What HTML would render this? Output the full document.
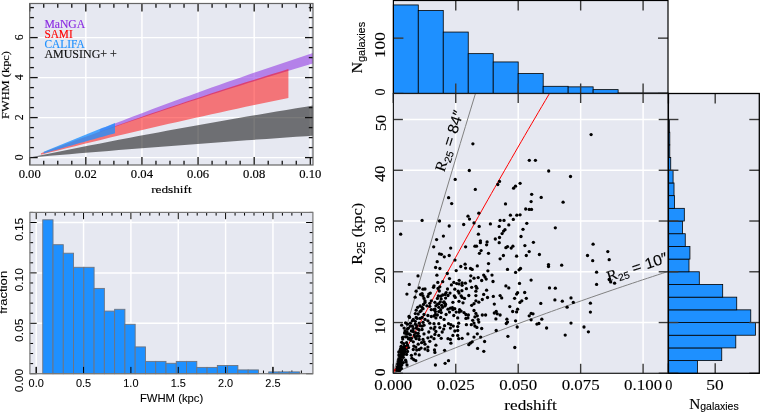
<!DOCTYPE html>
<html><head><meta charset="utf-8"><style>
html,body{margin:0;padding:0;background:#fff;width:760px;height:413px;overflow:hidden}
svg{display:block;will-change:transform}
</style></head><body>
<svg width="760" height="413" viewBox="0 0 760 413">
<rect width="760" height="413" fill="#fff"/>
<rect x="29.70" y="3.50" width="283.30" height="161.50" fill="#e6e8f1" stroke="none" stroke-width="0" />
<clipPath id="cA"><rect x="29.7" y="3.5" width="283.3" height="161.5"/></clipPath>
<g clip-path="url(#cA)">
<line x1="29.70" y1="3.50" x2="29.70" y2="165.00" stroke="#fff" stroke-width="1.45" />
<line x1="85.82" y1="3.50" x2="85.82" y2="165.00" stroke="#fff" stroke-width="1.45" />
<line x1="141.94" y1="3.50" x2="141.94" y2="165.00" stroke="#fff" stroke-width="1.45" />
<line x1="198.06" y1="3.50" x2="198.06" y2="165.00" stroke="#fff" stroke-width="1.45" />
<line x1="254.18" y1="3.50" x2="254.18" y2="165.00" stroke="#fff" stroke-width="1.45" />
<line x1="310.30" y1="3.50" x2="310.30" y2="165.00" stroke="#fff" stroke-width="1.45" />
<line x1="29.70" y1="157.60" x2="313.00" y2="157.60" stroke="#fff" stroke-width="1.45" />
<line x1="29.70" y1="117.60" x2="313.00" y2="117.60" stroke="#fff" stroke-width="1.45" />
<line x1="29.70" y1="77.60" x2="313.00" y2="77.60" stroke="#fff" stroke-width="1.45" />
<line x1="29.70" y1="37.60" x2="313.00" y2="37.60" stroke="#fff" stroke-width="1.45" />
<polygon points="29.98,157.54 39.84,155.51 49.70,153.49 59.56,151.49 69.42,149.51 79.28,147.55 89.14,145.60 99.00,143.67 108.86,141.75 118.72,139.85 128.58,137.97 138.44,136.10 148.30,134.25 158.16,132.41 168.02,130.59 177.88,128.79 187.74,127.00 197.60,125.22 207.46,123.46 217.31,121.72 227.17,119.99 237.03,118.27 246.89,116.57 256.75,114.88 266.61,113.21 276.47,111.55 286.33,109.90 296.19,108.27 306.05,106.65 315.91,105.05 315.91,135.45 306.05,136.13 296.19,136.81 286.33,137.50 276.47,138.19 266.61,138.89 256.75,139.60 246.89,140.31 237.03,141.03 227.17,141.75 217.31,142.48 207.46,143.21 197.60,143.96 187.74,144.70 177.88,145.46 168.02,146.22 158.16,146.99 148.30,147.76 138.44,148.54 128.58,149.33 118.72,150.12 108.86,150.92 99.00,151.73 89.14,152.54 79.28,153.36 69.42,154.19 59.56,155.03 49.70,155.87 39.84,156.72 29.98,157.58" fill="#000" fill-opacity="0.52"/>
<polygon points="99.85,129.30 107.30,126.39 114.75,123.51 122.20,120.64 129.65,117.79 137.10,114.96 144.55,112.14 152.00,109.35 159.45,106.57 166.90,103.81 174.35,101.06 181.80,98.34 189.25,95.63 196.71,92.94 204.16,90.26 211.61,87.61 219.06,84.97 226.51,82.34 233.96,79.74 241.41,77.15 248.86,74.57 256.31,72.01 263.76,69.47 271.21,66.95 278.66,64.44 286.11,61.94 293.56,59.46 301.01,57.00 308.46,54.55 315.91,52.12 315.91,62.63 308.46,64.82 301.01,67.02 293.56,69.24 286.11,71.47 278.66,73.72 271.21,75.98 263.76,78.25 256.31,80.54 248.86,82.85 241.41,85.16 233.96,87.50 226.51,89.84 219.06,92.20 211.61,94.58 204.16,96.97 196.71,99.38 189.25,101.81 181.80,104.24 174.35,106.70 166.90,109.17 159.45,111.65 152.00,114.15 144.55,116.67 137.10,119.21 129.65,121.76 122.20,124.32 114.75,126.90 107.30,129.50 99.85,132.12" fill="#8a2be2" fill-opacity="0.55"/>
<polygon points="40.92,153.34 49.46,150.12 57.99,146.93 66.53,143.76 75.06,140.62 83.59,137.50 92.13,134.40 100.66,131.32 109.20,128.27 117.73,125.24 126.27,122.23 134.80,119.25 143.33,116.28 151.87,113.34 160.40,110.42 168.94,107.52 177.47,104.64 186.00,101.79 194.54,98.95 203.07,96.13 211.61,93.34 220.14,90.56 228.67,87.81 237.21,85.07 245.74,82.35 254.28,79.66 262.81,76.98 271.34,74.32 279.88,71.69 288.41,69.07 288.41,97.89 279.88,99.66 271.34,101.44 262.81,103.23 254.28,105.03 245.74,106.85 237.21,108.68 228.67,110.53 220.14,112.39 211.61,114.26 203.07,116.15 194.54,118.04 186.00,119.96 177.47,121.88 168.94,123.83 160.40,125.78 151.87,127.75 143.33,129.74 134.80,131.73 126.27,133.75 117.73,135.78 109.20,137.82 100.66,139.88 92.13,141.95 83.59,144.04 75.06,146.15 66.53,148.27 57.99,150.40 49.46,152.56 40.92,154.72" fill="#ff0000" fill-opacity="0.5"/>
<polygon points="43.73,151.74 46.19,150.72 48.65,149.70 51.10,148.69 53.56,147.68 56.02,146.66 58.48,145.66 60.93,144.65 63.39,143.65 65.85,142.64 68.31,141.64 70.76,140.65 73.22,139.65 75.68,138.66 78.14,137.67 80.60,136.68 83.05,135.69 85.51,134.70 87.97,133.72 90.43,132.74 92.88,131.76 95.34,130.78 97.80,129.81 100.26,128.84 102.71,127.87 105.17,126.90 107.63,125.93 110.09,124.97 112.54,124.01 115.00,123.04 115.00,133.27 112.54,133.94 110.09,134.62 107.63,135.30 105.17,135.98 102.71,136.66 100.26,137.34 97.80,138.03 95.34,138.72 92.88,139.40 90.43,140.09 87.97,140.78 85.51,141.48 83.05,142.17 80.60,142.86 78.14,143.56 75.68,144.26 73.22,144.96 70.76,145.66 68.31,146.36 65.85,147.07 63.39,147.77 60.93,148.48 58.48,149.19 56.02,149.90 53.56,150.61 51.10,151.32 48.65,152.04 46.19,152.75 43.73,153.47" fill="#1e90ff" fill-opacity="0.78"/>
</g>
<line x1="29.70" y1="165.00" x2="29.70" y2="157.00" stroke="#111" stroke-width="1.3" />
<line x1="29.70" y1="3.50" x2="29.70" y2="11.50" stroke="#111" stroke-width="1.3" />
<line x1="43.73" y1="165.00" x2="43.73" y2="160.80" stroke="#111" stroke-width="1.3" />
<line x1="43.73" y1="3.50" x2="43.73" y2="7.70" stroke="#111" stroke-width="1.3" />
<line x1="57.76" y1="165.00" x2="57.76" y2="160.80" stroke="#111" stroke-width="1.3" />
<line x1="57.76" y1="3.50" x2="57.76" y2="7.70" stroke="#111" stroke-width="1.3" />
<line x1="71.79" y1="165.00" x2="71.79" y2="160.80" stroke="#111" stroke-width="1.3" />
<line x1="71.79" y1="3.50" x2="71.79" y2="7.70" stroke="#111" stroke-width="1.3" />
<line x1="85.82" y1="165.00" x2="85.82" y2="157.00" stroke="#111" stroke-width="1.3" />
<line x1="85.82" y1="3.50" x2="85.82" y2="11.50" stroke="#111" stroke-width="1.3" />
<line x1="99.85" y1="165.00" x2="99.85" y2="160.80" stroke="#111" stroke-width="1.3" />
<line x1="99.85" y1="3.50" x2="99.85" y2="7.70" stroke="#111" stroke-width="1.3" />
<line x1="113.88" y1="165.00" x2="113.88" y2="160.80" stroke="#111" stroke-width="1.3" />
<line x1="113.88" y1="3.50" x2="113.88" y2="7.70" stroke="#111" stroke-width="1.3" />
<line x1="127.91" y1="165.00" x2="127.91" y2="160.80" stroke="#111" stroke-width="1.3" />
<line x1="127.91" y1="3.50" x2="127.91" y2="7.70" stroke="#111" stroke-width="1.3" />
<line x1="141.94" y1="165.00" x2="141.94" y2="157.00" stroke="#111" stroke-width="1.3" />
<line x1="141.94" y1="3.50" x2="141.94" y2="11.50" stroke="#111" stroke-width="1.3" />
<line x1="155.97" y1="165.00" x2="155.97" y2="160.80" stroke="#111" stroke-width="1.3" />
<line x1="155.97" y1="3.50" x2="155.97" y2="7.70" stroke="#111" stroke-width="1.3" />
<line x1="170.00" y1="165.00" x2="170.00" y2="160.80" stroke="#111" stroke-width="1.3" />
<line x1="170.00" y1="3.50" x2="170.00" y2="7.70" stroke="#111" stroke-width="1.3" />
<line x1="184.03" y1="165.00" x2="184.03" y2="160.80" stroke="#111" stroke-width="1.3" />
<line x1="184.03" y1="3.50" x2="184.03" y2="7.70" stroke="#111" stroke-width="1.3" />
<line x1="198.06" y1="165.00" x2="198.06" y2="157.00" stroke="#111" stroke-width="1.3" />
<line x1="198.06" y1="3.50" x2="198.06" y2="11.50" stroke="#111" stroke-width="1.3" />
<line x1="212.09" y1="165.00" x2="212.09" y2="160.80" stroke="#111" stroke-width="1.3" />
<line x1="212.09" y1="3.50" x2="212.09" y2="7.70" stroke="#111" stroke-width="1.3" />
<line x1="226.12" y1="165.00" x2="226.12" y2="160.80" stroke="#111" stroke-width="1.3" />
<line x1="226.12" y1="3.50" x2="226.12" y2="7.70" stroke="#111" stroke-width="1.3" />
<line x1="240.15" y1="165.00" x2="240.15" y2="160.80" stroke="#111" stroke-width="1.3" />
<line x1="240.15" y1="3.50" x2="240.15" y2="7.70" stroke="#111" stroke-width="1.3" />
<line x1="254.18" y1="165.00" x2="254.18" y2="157.00" stroke="#111" stroke-width="1.3" />
<line x1="254.18" y1="3.50" x2="254.18" y2="11.50" stroke="#111" stroke-width="1.3" />
<line x1="268.21" y1="165.00" x2="268.21" y2="160.80" stroke="#111" stroke-width="1.3" />
<line x1="268.21" y1="3.50" x2="268.21" y2="7.70" stroke="#111" stroke-width="1.3" />
<line x1="282.24" y1="165.00" x2="282.24" y2="160.80" stroke="#111" stroke-width="1.3" />
<line x1="282.24" y1="3.50" x2="282.24" y2="7.70" stroke="#111" stroke-width="1.3" />
<line x1="296.27" y1="165.00" x2="296.27" y2="160.80" stroke="#111" stroke-width="1.3" />
<line x1="296.27" y1="3.50" x2="296.27" y2="7.70" stroke="#111" stroke-width="1.3" />
<line x1="310.30" y1="165.00" x2="310.30" y2="157.00" stroke="#111" stroke-width="1.3" />
<line x1="310.30" y1="3.50" x2="310.30" y2="11.50" stroke="#111" stroke-width="1.3" />
<line x1="29.70" y1="157.60" x2="37.70" y2="157.60" stroke="#111" stroke-width="1.3" />
<line x1="313.00" y1="157.60" x2="305.00" y2="157.60" stroke="#111" stroke-width="1.3" />
<line x1="29.70" y1="147.60" x2="33.90" y2="147.60" stroke="#111" stroke-width="1.3" />
<line x1="313.00" y1="147.60" x2="308.80" y2="147.60" stroke="#111" stroke-width="1.3" />
<line x1="29.70" y1="137.60" x2="33.90" y2="137.60" stroke="#111" stroke-width="1.3" />
<line x1="313.00" y1="137.60" x2="308.80" y2="137.60" stroke="#111" stroke-width="1.3" />
<line x1="29.70" y1="127.60" x2="33.90" y2="127.60" stroke="#111" stroke-width="1.3" />
<line x1="313.00" y1="127.60" x2="308.80" y2="127.60" stroke="#111" stroke-width="1.3" />
<line x1="29.70" y1="117.60" x2="37.70" y2="117.60" stroke="#111" stroke-width="1.3" />
<line x1="313.00" y1="117.60" x2="305.00" y2="117.60" stroke="#111" stroke-width="1.3" />
<line x1="29.70" y1="107.60" x2="33.90" y2="107.60" stroke="#111" stroke-width="1.3" />
<line x1="313.00" y1="107.60" x2="308.80" y2="107.60" stroke="#111" stroke-width="1.3" />
<line x1="29.70" y1="97.60" x2="33.90" y2="97.60" stroke="#111" stroke-width="1.3" />
<line x1="313.00" y1="97.60" x2="308.80" y2="97.60" stroke="#111" stroke-width="1.3" />
<line x1="29.70" y1="87.60" x2="33.90" y2="87.60" stroke="#111" stroke-width="1.3" />
<line x1="313.00" y1="87.60" x2="308.80" y2="87.60" stroke="#111" stroke-width="1.3" />
<line x1="29.70" y1="77.60" x2="37.70" y2="77.60" stroke="#111" stroke-width="1.3" />
<line x1="313.00" y1="77.60" x2="305.00" y2="77.60" stroke="#111" stroke-width="1.3" />
<line x1="29.70" y1="67.60" x2="33.90" y2="67.60" stroke="#111" stroke-width="1.3" />
<line x1="313.00" y1="67.60" x2="308.80" y2="67.60" stroke="#111" stroke-width="1.3" />
<line x1="29.70" y1="57.60" x2="33.90" y2="57.60" stroke="#111" stroke-width="1.3" />
<line x1="313.00" y1="57.60" x2="308.80" y2="57.60" stroke="#111" stroke-width="1.3" />
<line x1="29.70" y1="47.60" x2="33.90" y2="47.60" stroke="#111" stroke-width="1.3" />
<line x1="313.00" y1="47.60" x2="308.80" y2="47.60" stroke="#111" stroke-width="1.3" />
<line x1="29.70" y1="37.60" x2="37.70" y2="37.60" stroke="#111" stroke-width="1.3" />
<line x1="313.00" y1="37.60" x2="305.00" y2="37.60" stroke="#111" stroke-width="1.3" />
<line x1="29.70" y1="27.60" x2="33.90" y2="27.60" stroke="#111" stroke-width="1.3" />
<line x1="313.00" y1="27.60" x2="308.80" y2="27.60" stroke="#111" stroke-width="1.3" />
<line x1="29.70" y1="17.60" x2="33.90" y2="17.60" stroke="#111" stroke-width="1.3" />
<line x1="313.00" y1="17.60" x2="308.80" y2="17.60" stroke="#111" stroke-width="1.3" />
<line x1="29.70" y1="7.60" x2="33.90" y2="7.60" stroke="#111" stroke-width="1.3" />
<line x1="313.00" y1="7.60" x2="308.80" y2="7.60" stroke="#111" stroke-width="1.3" />
<rect x="29.70" y="3.50" width="283.30" height="161.50" fill="none" stroke="#666" stroke-width="1.2" />
<text x="29.70" y="178.30" font-family='"Liberation Serif", serif' font-size="11.8" text-anchor="middle" fill="#000" stroke="#000" stroke-width="0.15" textLength="22.10" lengthAdjust="spacingAndGlyphs" >0.00</text>
<text x="85.82" y="178.30" font-family='"Liberation Serif", serif' font-size="11.8" text-anchor="middle" fill="#000" stroke="#000" stroke-width="0.15" textLength="22.10" lengthAdjust="spacingAndGlyphs" >0.02</text>
<text x="141.94" y="178.30" font-family='"Liberation Serif", serif' font-size="11.8" text-anchor="middle" fill="#000" stroke="#000" stroke-width="0.15" textLength="22.10" lengthAdjust="spacingAndGlyphs" >0.04</text>
<text x="198.06" y="178.30" font-family='"Liberation Serif", serif' font-size="11.8" text-anchor="middle" fill="#000" stroke="#000" stroke-width="0.15" textLength="22.10" lengthAdjust="spacingAndGlyphs" >0.06</text>
<text x="254.18" y="178.30" font-family='"Liberation Serif", serif' font-size="11.8" text-anchor="middle" fill="#000" stroke="#000" stroke-width="0.15" textLength="22.10" lengthAdjust="spacingAndGlyphs" >0.08</text>
<text x="310.30" y="178.30" font-family='"Liberation Serif", serif' font-size="11.8" text-anchor="middle" fill="#000" stroke="#000" stroke-width="0.15" textLength="22.10" lengthAdjust="spacingAndGlyphs" >0.10</text>
<text x="23.20" y="157.20" font-family='"Liberation Serif", serif' font-size="11.8" text-anchor="middle" fill="#000" stroke="#000" stroke-width="0.15" transform="rotate(-90 23.20 157.20)" >0</text>
<text x="23.20" y="117.20" font-family='"Liberation Serif", serif' font-size="11.8" text-anchor="middle" fill="#000" stroke="#000" stroke-width="0.15" transform="rotate(-90 23.20 117.20)" >2</text>
<text x="23.20" y="77.20" font-family='"Liberation Serif", serif' font-size="11.8" text-anchor="middle" fill="#000" stroke="#000" stroke-width="0.15" transform="rotate(-90 23.20 77.20)" >4</text>
<text x="23.20" y="37.20" font-family='"Liberation Serif", serif' font-size="11.8" text-anchor="middle" fill="#000" stroke="#000" stroke-width="0.15" transform="rotate(-90 23.20 37.20)" >6</text>
<text x="171.40" y="193.00" font-family='"Liberation Serif", serif' font-size="11.2" text-anchor="middle" fill="#000" stroke="#000" stroke-width="0.15" textLength="40.50" lengthAdjust="spacingAndGlyphs" >redshift</text>
<text x="8.70" y="85.00" font-family='"Liberation Serif", serif' font-size="10.8" text-anchor="middle" fill="#000" stroke="#000" stroke-width="0.15" textLength="68.00" lengthAdjust="spacingAndGlyphs" transform="rotate(-90 8.70 85.00)" >FWHM (kpc)</text>
<text x="44.40" y="27.90" font-family='"Liberation Serif", serif' font-size="11.8" text-anchor="start" fill="#8a2be2" stroke="#8a2be2" stroke-width="0.15" textLength="40.80" lengthAdjust="spacingAndGlyphs" >MaNGA</text>
<text x="44.40" y="37.70" font-family='"Liberation Serif", serif' font-size="11.8" text-anchor="start" fill="#ff0000" stroke="#ff0000" stroke-width="0.15" textLength="28.30" lengthAdjust="spacingAndGlyphs" >SAMI</text>
<text x="44.40" y="47.70" font-family='"Liberation Serif", serif' font-size="11.8" text-anchor="start" fill="#1e90ff" stroke="#1e90ff" stroke-width="0.15" textLength="40.30" lengthAdjust="spacingAndGlyphs" >CALIFA</text>
<text x="44.40" y="57.50" font-family='"Liberation Serif", serif' font-size="11.8" text-anchor="start" fill="#111" stroke="#111" stroke-width="0.15" textLength="72.40" lengthAdjust="spacingAndGlyphs" >AMUSING+ +</text>
<rect x="29.90" y="212.40" width="283.00" height="161.30" fill="#e6e8f1" stroke="none" stroke-width="0" />
<line x1="36.20" y1="212.40" x2="36.20" y2="373.70" stroke="#fff" stroke-width="1.45" />
<line x1="83.55" y1="212.40" x2="83.55" y2="373.70" stroke="#fff" stroke-width="1.45" />
<line x1="130.90" y1="212.40" x2="130.90" y2="373.70" stroke="#fff" stroke-width="1.45" />
<line x1="178.25" y1="212.40" x2="178.25" y2="373.70" stroke="#fff" stroke-width="1.45" />
<line x1="225.60" y1="212.40" x2="225.60" y2="373.70" stroke="#fff" stroke-width="1.45" />
<line x1="272.95" y1="212.40" x2="272.95" y2="373.70" stroke="#fff" stroke-width="1.45" />
<line x1="29.90" y1="323.30" x2="312.90" y2="323.30" stroke="#fff" stroke-width="1.45" />
<line x1="29.90" y1="272.90" x2="312.90" y2="272.90" stroke="#fff" stroke-width="1.45" />
<line x1="29.90" y1="222.50" x2="312.90" y2="222.50" stroke="#fff" stroke-width="1.45" />
<line x1="36.20" y1="373.70" x2="36.20" y2="366.90" stroke="#000" stroke-width="1.0" />
<line x1="36.20" y1="212.40" x2="36.20" y2="219.20" stroke="#000" stroke-width="1.0" />
<line x1="45.67" y1="373.70" x2="45.67" y2="370.50" stroke="#000" stroke-width="1.0" />
<line x1="45.67" y1="212.40" x2="45.67" y2="215.60" stroke="#000" stroke-width="1.0" />
<line x1="55.14" y1="373.70" x2="55.14" y2="370.50" stroke="#000" stroke-width="1.0" />
<line x1="55.14" y1="212.40" x2="55.14" y2="215.60" stroke="#000" stroke-width="1.0" />
<line x1="64.61" y1="373.70" x2="64.61" y2="370.50" stroke="#000" stroke-width="1.0" />
<line x1="64.61" y1="212.40" x2="64.61" y2="215.60" stroke="#000" stroke-width="1.0" />
<line x1="74.08" y1="373.70" x2="74.08" y2="370.50" stroke="#000" stroke-width="1.0" />
<line x1="74.08" y1="212.40" x2="74.08" y2="215.60" stroke="#000" stroke-width="1.0" />
<line x1="83.55" y1="373.70" x2="83.55" y2="366.90" stroke="#000" stroke-width="1.0" />
<line x1="83.55" y1="212.40" x2="83.55" y2="219.20" stroke="#000" stroke-width="1.0" />
<line x1="93.02" y1="373.70" x2="93.02" y2="370.50" stroke="#000" stroke-width="1.0" />
<line x1="93.02" y1="212.40" x2="93.02" y2="215.60" stroke="#000" stroke-width="1.0" />
<line x1="102.49" y1="373.70" x2="102.49" y2="370.50" stroke="#000" stroke-width="1.0" />
<line x1="102.49" y1="212.40" x2="102.49" y2="215.60" stroke="#000" stroke-width="1.0" />
<line x1="111.96" y1="373.70" x2="111.96" y2="370.50" stroke="#000" stroke-width="1.0" />
<line x1="111.96" y1="212.40" x2="111.96" y2="215.60" stroke="#000" stroke-width="1.0" />
<line x1="121.43" y1="373.70" x2="121.43" y2="370.50" stroke="#000" stroke-width="1.0" />
<line x1="121.43" y1="212.40" x2="121.43" y2="215.60" stroke="#000" stroke-width="1.0" />
<line x1="130.90" y1="373.70" x2="130.90" y2="366.90" stroke="#000" stroke-width="1.0" />
<line x1="130.90" y1="212.40" x2="130.90" y2="219.20" stroke="#000" stroke-width="1.0" />
<line x1="140.37" y1="373.70" x2="140.37" y2="370.50" stroke="#000" stroke-width="1.0" />
<line x1="140.37" y1="212.40" x2="140.37" y2="215.60" stroke="#000" stroke-width="1.0" />
<line x1="149.84" y1="373.70" x2="149.84" y2="370.50" stroke="#000" stroke-width="1.0" />
<line x1="149.84" y1="212.40" x2="149.84" y2="215.60" stroke="#000" stroke-width="1.0" />
<line x1="159.31" y1="373.70" x2="159.31" y2="370.50" stroke="#000" stroke-width="1.0" />
<line x1="159.31" y1="212.40" x2="159.31" y2="215.60" stroke="#000" stroke-width="1.0" />
<line x1="168.78" y1="373.70" x2="168.78" y2="370.50" stroke="#000" stroke-width="1.0" />
<line x1="168.78" y1="212.40" x2="168.78" y2="215.60" stroke="#000" stroke-width="1.0" />
<line x1="178.25" y1="373.70" x2="178.25" y2="366.90" stroke="#000" stroke-width="1.0" />
<line x1="178.25" y1="212.40" x2="178.25" y2="219.20" stroke="#000" stroke-width="1.0" />
<line x1="187.72" y1="373.70" x2="187.72" y2="370.50" stroke="#000" stroke-width="1.0" />
<line x1="187.72" y1="212.40" x2="187.72" y2="215.60" stroke="#000" stroke-width="1.0" />
<line x1="197.19" y1="373.70" x2="197.19" y2="370.50" stroke="#000" stroke-width="1.0" />
<line x1="197.19" y1="212.40" x2="197.19" y2="215.60" stroke="#000" stroke-width="1.0" />
<line x1="206.66" y1="373.70" x2="206.66" y2="370.50" stroke="#000" stroke-width="1.0" />
<line x1="206.66" y1="212.40" x2="206.66" y2="215.60" stroke="#000" stroke-width="1.0" />
<line x1="216.13" y1="373.70" x2="216.13" y2="370.50" stroke="#000" stroke-width="1.0" />
<line x1="216.13" y1="212.40" x2="216.13" y2="215.60" stroke="#000" stroke-width="1.0" />
<line x1="225.60" y1="373.70" x2="225.60" y2="366.90" stroke="#000" stroke-width="1.0" />
<line x1="225.60" y1="212.40" x2="225.60" y2="219.20" stroke="#000" stroke-width="1.0" />
<line x1="235.07" y1="373.70" x2="235.07" y2="370.50" stroke="#000" stroke-width="1.0" />
<line x1="235.07" y1="212.40" x2="235.07" y2="215.60" stroke="#000" stroke-width="1.0" />
<line x1="244.54" y1="373.70" x2="244.54" y2="370.50" stroke="#000" stroke-width="1.0" />
<line x1="244.54" y1="212.40" x2="244.54" y2="215.60" stroke="#000" stroke-width="1.0" />
<line x1="254.01" y1="373.70" x2="254.01" y2="370.50" stroke="#000" stroke-width="1.0" />
<line x1="254.01" y1="212.40" x2="254.01" y2="215.60" stroke="#000" stroke-width="1.0" />
<line x1="263.48" y1="373.70" x2="263.48" y2="370.50" stroke="#000" stroke-width="1.0" />
<line x1="263.48" y1="212.40" x2="263.48" y2="215.60" stroke="#000" stroke-width="1.0" />
<line x1="272.95" y1="373.70" x2="272.95" y2="366.90" stroke="#000" stroke-width="1.0" />
<line x1="272.95" y1="212.40" x2="272.95" y2="219.20" stroke="#000" stroke-width="1.0" />
<line x1="282.42" y1="373.70" x2="282.42" y2="370.50" stroke="#000" stroke-width="1.0" />
<line x1="282.42" y1="212.40" x2="282.42" y2="215.60" stroke="#000" stroke-width="1.0" />
<line x1="291.89" y1="373.70" x2="291.89" y2="370.50" stroke="#000" stroke-width="1.0" />
<line x1="291.89" y1="212.40" x2="291.89" y2="215.60" stroke="#000" stroke-width="1.0" />
<line x1="301.36" y1="373.70" x2="301.36" y2="370.50" stroke="#000" stroke-width="1.0" />
<line x1="301.36" y1="212.40" x2="301.36" y2="215.60" stroke="#000" stroke-width="1.0" />
<line x1="29.90" y1="373.70" x2="36.70" y2="373.70" stroke="#000" stroke-width="1.0" />
<line x1="312.90" y1="373.70" x2="306.10" y2="373.70" stroke="#000" stroke-width="1.0" />
<line x1="29.90" y1="363.62" x2="33.10" y2="363.62" stroke="#000" stroke-width="1.0" />
<line x1="312.90" y1="363.62" x2="309.70" y2="363.62" stroke="#000" stroke-width="1.0" />
<line x1="29.90" y1="353.54" x2="33.10" y2="353.54" stroke="#000" stroke-width="1.0" />
<line x1="312.90" y1="353.54" x2="309.70" y2="353.54" stroke="#000" stroke-width="1.0" />
<line x1="29.90" y1="343.46" x2="33.10" y2="343.46" stroke="#000" stroke-width="1.0" />
<line x1="312.90" y1="343.46" x2="309.70" y2="343.46" stroke="#000" stroke-width="1.0" />
<line x1="29.90" y1="333.38" x2="33.10" y2="333.38" stroke="#000" stroke-width="1.0" />
<line x1="312.90" y1="333.38" x2="309.70" y2="333.38" stroke="#000" stroke-width="1.0" />
<line x1="29.90" y1="323.30" x2="36.70" y2="323.30" stroke="#000" stroke-width="1.0" />
<line x1="312.90" y1="323.30" x2="306.10" y2="323.30" stroke="#000" stroke-width="1.0" />
<line x1="29.90" y1="313.22" x2="33.10" y2="313.22" stroke="#000" stroke-width="1.0" />
<line x1="312.90" y1="313.22" x2="309.70" y2="313.22" stroke="#000" stroke-width="1.0" />
<line x1="29.90" y1="303.14" x2="33.10" y2="303.14" stroke="#000" stroke-width="1.0" />
<line x1="312.90" y1="303.14" x2="309.70" y2="303.14" stroke="#000" stroke-width="1.0" />
<line x1="29.90" y1="293.06" x2="33.10" y2="293.06" stroke="#000" stroke-width="1.0" />
<line x1="312.90" y1="293.06" x2="309.70" y2="293.06" stroke="#000" stroke-width="1.0" />
<line x1="29.90" y1="282.98" x2="33.10" y2="282.98" stroke="#000" stroke-width="1.0" />
<line x1="312.90" y1="282.98" x2="309.70" y2="282.98" stroke="#000" stroke-width="1.0" />
<line x1="29.90" y1="272.90" x2="36.70" y2="272.90" stroke="#000" stroke-width="1.0" />
<line x1="312.90" y1="272.90" x2="306.10" y2="272.90" stroke="#000" stroke-width="1.0" />
<line x1="29.90" y1="262.82" x2="33.10" y2="262.82" stroke="#000" stroke-width="1.0" />
<line x1="312.90" y1="262.82" x2="309.70" y2="262.82" stroke="#000" stroke-width="1.0" />
<line x1="29.90" y1="252.74" x2="33.10" y2="252.74" stroke="#000" stroke-width="1.0" />
<line x1="312.90" y1="252.74" x2="309.70" y2="252.74" stroke="#000" stroke-width="1.0" />
<line x1="29.90" y1="242.66" x2="33.10" y2="242.66" stroke="#000" stroke-width="1.0" />
<line x1="312.90" y1="242.66" x2="309.70" y2="242.66" stroke="#000" stroke-width="1.0" />
<line x1="29.90" y1="232.58" x2="33.10" y2="232.58" stroke="#000" stroke-width="1.0" />
<line x1="312.90" y1="232.58" x2="309.70" y2="232.58" stroke="#000" stroke-width="1.0" />
<line x1="29.90" y1="222.50" x2="36.70" y2="222.50" stroke="#000" stroke-width="1.0" />
<line x1="312.90" y1="222.50" x2="306.10" y2="222.50" stroke="#000" stroke-width="1.0" />
<line x1="29.90" y1="212.42" x2="33.10" y2="212.42" stroke="#000" stroke-width="1.0" />
<line x1="312.90" y1="212.42" x2="309.70" y2="212.42" stroke="#000" stroke-width="1.0" />
<rect x="42.75" y="219.80" width="10.27" height="153.90" fill="#1e90ff" stroke="#6e7480" stroke-width="0.9" />
<rect x="53.02" y="244.70" width="10.27" height="129.00" fill="#1e90ff" stroke="#6e7480" stroke-width="0.9" />
<rect x="63.29" y="253.20" width="10.27" height="120.50" fill="#1e90ff" stroke="#6e7480" stroke-width="0.9" />
<rect x="73.56" y="267.30" width="10.27" height="106.40" fill="#1e90ff" stroke="#6e7480" stroke-width="0.9" />
<rect x="83.83" y="267.30" width="10.27" height="106.40" fill="#1e90ff" stroke="#6e7480" stroke-width="0.9" />
<rect x="94.10" y="288.40" width="10.27" height="85.30" fill="#1e90ff" stroke="#6e7480" stroke-width="0.9" />
<rect x="104.37" y="311.10" width="10.27" height="62.60" fill="#1e90ff" stroke="#6e7480" stroke-width="0.9" />
<rect x="114.64" y="309.30" width="10.27" height="64.40" fill="#1e90ff" stroke="#6e7480" stroke-width="0.9" />
<rect x="124.91" y="324.30" width="10.27" height="49.40" fill="#1e90ff" stroke="#6e7480" stroke-width="0.9" />
<rect x="135.18" y="346.90" width="10.27" height="26.80" fill="#1e90ff" stroke="#6e7480" stroke-width="0.9" />
<rect x="145.45" y="361.40" width="10.27" height="12.30" fill="#1e90ff" stroke="#6e7480" stroke-width="0.9" />
<rect x="155.72" y="361.40" width="10.27" height="12.30" fill="#1e90ff" stroke="#6e7480" stroke-width="0.9" />
<rect x="165.99" y="363.30" width="10.27" height="10.40" fill="#1e90ff" stroke="#6e7480" stroke-width="0.9" />
<rect x="176.26" y="361.40" width="10.27" height="12.30" fill="#1e90ff" stroke="#6e7480" stroke-width="0.9" />
<rect x="186.53" y="361.40" width="10.27" height="12.30" fill="#1e90ff" stroke="#6e7480" stroke-width="0.9" />
<rect x="196.80" y="367.40" width="10.27" height="6.30" fill="#1e90ff" stroke="#6e7480" stroke-width="0.9" />
<rect x="207.07" y="367.40" width="10.27" height="6.30" fill="#1e90ff" stroke="#6e7480" stroke-width="0.9" />
<rect x="217.34" y="365.50" width="10.27" height="8.20" fill="#1e90ff" stroke="#6e7480" stroke-width="0.9" />
<rect x="227.61" y="365.50" width="10.27" height="8.20" fill="#1e90ff" stroke="#6e7480" stroke-width="0.9" />
<rect x="237.88" y="369.90" width="10.27" height="3.80" fill="#1e90ff" stroke="#6e7480" stroke-width="0.9" />
<rect x="248.15" y="369.90" width="10.27" height="3.80" fill="#1e90ff" stroke="#6e7480" stroke-width="0.9" />
<rect x="268.69" y="371.90" width="10.27" height="1.80" fill="#1e90ff" stroke="#6e7480" stroke-width="0.9" />
<rect x="278.96" y="371.90" width="10.27" height="1.80" fill="#1e90ff" stroke="#6e7480" stroke-width="0.9" />
<rect x="289.23" y="371.90" width="10.27" height="1.80" fill="#1e90ff" stroke="#6e7480" stroke-width="0.9" />
<line x1="36.20" y1="373.70" x2="36.20" y2="366.90" stroke="#000" stroke-width="1.0" />
<line x1="83.55" y1="373.70" x2="83.55" y2="366.90" stroke="#000" stroke-width="1.0" />
<line x1="130.90" y1="373.70" x2="130.90" y2="366.90" stroke="#000" stroke-width="1.0" />
<line x1="178.25" y1="373.70" x2="178.25" y2="366.90" stroke="#000" stroke-width="1.0" />
<line x1="225.60" y1="373.70" x2="225.60" y2="366.90" stroke="#000" stroke-width="1.0" />
<line x1="272.95" y1="373.70" x2="272.95" y2="366.90" stroke="#000" stroke-width="1.0" />
<rect x="29.90" y="212.40" width="283.00" height="161.30" fill="none" stroke="#777" stroke-width="1.2" />
<text x="36.20" y="386.60" font-family='"Liberation Sans", sans-serif' font-size="10.3" text-anchor="middle" fill="#000" stroke="#000" stroke-width="0.08" textLength="15.20" lengthAdjust="spacingAndGlyphs" >0.0</text>
<text x="83.55" y="386.60" font-family='"Liberation Sans", sans-serif' font-size="10.3" text-anchor="middle" fill="#000" stroke="#000" stroke-width="0.08" textLength="15.20" lengthAdjust="spacingAndGlyphs" >0.5</text>
<text x="130.90" y="386.60" font-family='"Liberation Sans", sans-serif' font-size="10.3" text-anchor="middle" fill="#000" stroke="#000" stroke-width="0.08" textLength="15.20" lengthAdjust="spacingAndGlyphs" >1.0</text>
<text x="178.25" y="386.60" font-family='"Liberation Sans", sans-serif' font-size="10.3" text-anchor="middle" fill="#000" stroke="#000" stroke-width="0.08" textLength="15.20" lengthAdjust="spacingAndGlyphs" >1.5</text>
<text x="225.60" y="386.60" font-family='"Liberation Sans", sans-serif' font-size="10.3" text-anchor="middle" fill="#000" stroke="#000" stroke-width="0.08" textLength="15.20" lengthAdjust="spacingAndGlyphs" >2.0</text>
<text x="272.95" y="386.60" font-family='"Liberation Sans", sans-serif' font-size="10.3" text-anchor="middle" fill="#000" stroke="#000" stroke-width="0.08" textLength="15.20" lengthAdjust="spacingAndGlyphs" >2.5</text>
<text x="23.20" y="380.60" font-family='"Liberation Sans", sans-serif' font-size="10.3" text-anchor="middle" fill="#000" stroke="#000" stroke-width="0.08" textLength="23.40" lengthAdjust="spacingAndGlyphs" transform="rotate(-90 23.20 380.60)" >0.00</text>
<text x="23.20" y="330.20" font-family='"Liberation Sans", sans-serif' font-size="10.3" text-anchor="middle" fill="#000" stroke="#000" stroke-width="0.08" textLength="23.40" lengthAdjust="spacingAndGlyphs" transform="rotate(-90 23.20 330.20)" >0.05</text>
<text x="23.20" y="279.80" font-family='"Liberation Sans", sans-serif' font-size="10.3" text-anchor="middle" fill="#000" stroke="#000" stroke-width="0.08" textLength="23.40" lengthAdjust="spacingAndGlyphs" transform="rotate(-90 23.20 279.80)" >0.10</text>
<text x="23.20" y="229.40" font-family='"Liberation Sans", sans-serif' font-size="10.3" text-anchor="middle" fill="#000" stroke="#000" stroke-width="0.08" textLength="23.40" lengthAdjust="spacingAndGlyphs" transform="rotate(-90 23.20 229.40)" >0.15</text>
<text x="171.60" y="401.80" font-family='"Liberation Sans", sans-serif' font-size="10.3" text-anchor="middle" fill="#000" stroke="#000" stroke-width="0.08" textLength="63.40" lengthAdjust="spacingAndGlyphs" >FWHM (kpc)</text>
<text x="6.80" y="292.30" font-family='"Liberation Sans", sans-serif' font-size="10.3" text-anchor="middle" fill="#000" stroke="#000" stroke-width="0.08" textLength="43.00" lengthAdjust="spacingAndGlyphs" transform="rotate(-90 6.80 292.30)" >fraction</text>
<rect x="393.40" y="0.50" width="274.60" height="93.00" fill="#e6e8f1" stroke="none" stroke-width="0" />
<rect x="393.30" y="4.94" width="24.98" height="88.56" fill="#1e90ff" stroke="#000" stroke-width="0.8" />
<rect x="418.28" y="10.47" width="24.98" height="83.03" fill="#1e90ff" stroke="#000" stroke-width="0.8" />
<rect x="443.26" y="32.06" width="24.98" height="61.44" fill="#1e90ff" stroke="#000" stroke-width="0.8" />
<rect x="468.24" y="53.65" width="24.98" height="39.85" fill="#1e90ff" stroke="#000" stroke-width="0.8" />
<rect x="493.22" y="61.95" width="24.98" height="31.55" fill="#1e90ff" stroke="#000" stroke-width="0.8" />
<rect x="518.20" y="73.57" width="24.98" height="19.93" fill="#1e90ff" stroke="#000" stroke-width="0.8" />
<rect x="543.18" y="86.30" width="24.98" height="7.20" fill="#1e90ff" stroke="#000" stroke-width="0.8" />
<rect x="568.16" y="86.86" width="24.98" height="6.64" fill="#1e90ff" stroke="#000" stroke-width="0.8" />
<rect x="593.14" y="89.63" width="24.98" height="3.87" fill="#1e90ff" stroke="#000" stroke-width="0.8" />
<rect x="618.12" y="92.95" width="24.98" height="0.55" fill="#1e90ff" stroke="#000" stroke-width="0.8" />
<rect x="643.10" y="92.95" width="24.98" height="0.55" fill="#1e90ff" stroke="#000" stroke-width="0.8" />
<line x1="455.75" y1="93.50" x2="455.75" y2="83.50" stroke="#3a3a3a" stroke-width="1.4" />
<line x1="455.75" y1="0.50" x2="455.75" y2="10.50" stroke="#3a3a3a" stroke-width="1.4" />
<line x1="518.20" y1="93.50" x2="518.20" y2="83.50" stroke="#3a3a3a" stroke-width="1.4" />
<line x1="518.20" y1="0.50" x2="518.20" y2="10.50" stroke="#3a3a3a" stroke-width="1.4" />
<line x1="580.65" y1="93.50" x2="580.65" y2="83.50" stroke="#3a3a3a" stroke-width="1.4" />
<line x1="580.65" y1="0.50" x2="580.65" y2="10.50" stroke="#3a3a3a" stroke-width="1.4" />
<line x1="643.10" y1="93.50" x2="643.10" y2="83.50" stroke="#3a3a3a" stroke-width="1.4" />
<line x1="643.10" y1="0.50" x2="643.10" y2="10.50" stroke="#3a3a3a" stroke-width="1.4" />
<line x1="393.40" y1="93.50" x2="403.40" y2="93.50" stroke="#3a3a3a" stroke-width="1.4" />
<line x1="668.00" y1="93.50" x2="658.00" y2="93.50" stroke="#3a3a3a" stroke-width="1.4" />
<line x1="393.40" y1="38.15" x2="403.40" y2="38.15" stroke="#3a3a3a" stroke-width="1.4" />
<line x1="668.00" y1="38.15" x2="658.00" y2="38.15" stroke="#3a3a3a" stroke-width="1.4" />
<rect x="393.40" y="0.50" width="274.60" height="93.00" fill="none" stroke="#000" stroke-width="1.2" />
<text x="385.30" y="92.00" font-family='"Liberation Serif", serif' font-size="14.2" text-anchor="middle" fill="#000" stroke="#000" stroke-width="0.12" transform="rotate(-90 385.30 92.00)" >0</text>
<text x="385.30" y="45.05" font-family='"Liberation Serif", serif' font-size="14.2" text-anchor="middle" fill="#000" stroke="#000" stroke-width="0.12" textLength="26.00" lengthAdjust="spacingAndGlyphs" transform="rotate(-90 385.30 45.05)" >100</text>
<rect x="393.40" y="93.50" width="274.80" height="279.80" fill="#e6e8f1" stroke="none" stroke-width="0" />
<line x1="455.75" y1="93.50" x2="455.75" y2="373.30" stroke="#fff" stroke-width="1.45" />
<line x1="518.20" y1="93.50" x2="518.20" y2="373.30" stroke="#fff" stroke-width="1.45" />
<line x1="580.65" y1="93.50" x2="580.65" y2="373.30" stroke="#fff" stroke-width="1.45" />
<line x1="643.10" y1="93.50" x2="643.10" y2="373.30" stroke="#fff" stroke-width="1.45" />
<line x1="393.40" y1="322.54" x2="668.20" y2="322.54" stroke="#fff" stroke-width="1.45" />
<line x1="393.40" y1="271.78" x2="668.20" y2="271.78" stroke="#fff" stroke-width="1.45" />
<line x1="393.40" y1="221.02" x2="668.20" y2="221.02" stroke="#fff" stroke-width="1.45" />
<line x1="393.40" y1="170.26" x2="668.20" y2="170.26" stroke="#fff" stroke-width="1.45" />
<line x1="393.40" y1="119.50" x2="668.20" y2="119.50" stroke="#fff" stroke-width="1.45" />
<g id="scatter"></g>
<clipPath id="cM"><rect x="393.4" y="93.5" width="274.80000000000007" height="279.8"/></clipPath>
<g clip-path="url(#cM)">
<polyline points="393.30,373.30 394.55,368.88 399.61,351.01 404.67,333.23 409.73,315.55 414.79,297.94 419.85,280.43 424.91,263.00 429.97,245.66 435.03,228.40 440.08,211.23 445.14,194.14 450.20,177.14 455.26,160.21 460.32,143.38 465.38,126.62 470.44,109.95 475.50,93.36 480.56,76.84 485.62,60.41 490.68,44.06 495.74,27.79 500.80,11.60 505.86,-4.51 510.92,-20.55 515.98,-36.50 521.04,-52.38 526.10,-68.18 531.16,-83.91 536.22,-99.56 541.27,-115.13 546.33,-130.63 551.39,-146.05 556.45,-161.40 561.51,-176.67 566.57,-191.87 571.63,-207.00 576.69,-222.06 581.75,-237.04 586.81,-251.95 591.87,-266.79 596.93,-281.55 601.99,-296.25 607.05,-310.87 612.11,-325.43 617.17,-339.91 622.23,-354.33 627.29,-368.68 632.35,-382.95 637.41,-397.16 642.46,-411.31 647.52,-425.38 652.58,-439.39 657.64,-453.33 662.70,-467.20 667.76,-481.01 672.82,-494.75 677.88,-508.43 682.94,-522.04 688.00,-535.59 693.06,-549.07" fill="none" stroke="#808080" stroke-width="1.0"/>
<polyline points="393.30,373.30 394.55,372.77 399.61,370.65 404.67,368.53 409.73,366.42 414.79,364.33 419.85,362.24 424.91,360.17 429.97,358.10 435.03,356.05 440.08,354.01 445.14,351.97 450.20,349.95 455.26,347.93 460.32,345.93 465.38,343.93 470.44,341.95 475.50,339.97 480.56,338.01 485.62,336.05 490.68,334.11 495.74,332.17 500.80,330.24 505.86,328.32 510.92,326.41 515.98,324.51 521.04,322.62 526.10,320.74 531.16,318.87 536.22,317.01 541.27,315.15 546.33,313.31 551.39,311.47 556.45,309.65 561.51,307.83 566.57,306.02 571.63,304.22 576.69,302.42 581.75,300.64 586.81,298.87 591.87,297.10 596.93,295.34 601.99,293.59 607.05,291.85 612.11,290.12 617.17,288.39 622.23,286.68 627.29,284.97 632.35,283.27 637.41,281.58 642.46,279.89 647.52,278.22 652.58,276.55 657.64,274.89 662.70,273.24 667.76,271.60 672.82,269.96 677.88,268.33 682.94,266.71 688.00,265.10 693.06,263.49" fill="none" stroke="#808080" stroke-width="1.0"/>
<polyline points="393.30,373.30 396.34,367.50 399.39,361.70 402.45,355.90 405.51,350.10 408.59,344.29 411.67,338.49 414.76,332.69 417.86,326.89 420.97,321.09 424.08,315.29 427.21,309.49 430.34,303.69 433.48,297.89 436.63,292.08 439.79,286.28 442.95,280.48 446.13,274.68 449.31,268.88 452.50,263.08 455.70,257.28 458.91,251.48 462.12,245.67 465.35,239.87 468.58,234.07 471.82,228.27 475.07,222.47 478.33,216.67 481.59,210.87 484.87,205.07 488.15,199.27 491.44,193.46 494.74,187.66 498.05,181.86 501.37,176.06 504.69,170.26 508.02,164.46 511.37,158.66 514.71,152.86 518.07,147.06 521.44,141.25 524.81,135.45 528.20,129.65 531.59,123.85 534.99,118.05 538.40,112.25 541.81,106.45 545.24,100.65 548.67,94.85 552.11,89.04" fill="none" stroke="#ff0000" stroke-width="1.0"/>
<circle cx="472.9" cy="143.8" r="1.65" fill="#000"/>
<circle cx="469.3" cy="170.5" r="1.65" fill="#000"/>
<circle cx="455.2" cy="179.4" r="1.65" fill="#000"/>
<circle cx="475.3" cy="189.4" r="1.65" fill="#000"/>
<circle cx="591.1" cy="134.6" r="1.65" fill="#000"/>
<circle cx="529.3" cy="160.3" r="1.65" fill="#000"/>
<circle cx="535.4" cy="160.3" r="1.65" fill="#000"/>
<circle cx="548.7" cy="171.0" r="1.65" fill="#000"/>
<circle cx="570.5" cy="176.5" r="1.65" fill="#000"/>
<circle cx="499.5" cy="181.4" r="1.65" fill="#000"/>
<circle cx="497.8" cy="184.5" r="1.65" fill="#000"/>
<circle cx="520.1" cy="183.3" r="1.65" fill="#000"/>
<circle cx="515.5" cy="186.2" r="1.65" fill="#000"/>
<circle cx="513.6" cy="188.2" r="1.65" fill="#000"/>
<circle cx="448.6" cy="197.7" r="1.65" fill="#000"/>
<circle cx="451.7" cy="203.6" r="1.65" fill="#000"/>
<circle cx="422.1" cy="220.4" r="1.65" fill="#000"/>
<circle cx="439.5" cy="221.0" r="1.65" fill="#000"/>
<circle cx="468.0" cy="216.2" r="1.65" fill="#000"/>
<circle cx="469.5" cy="219.1" r="1.65" fill="#000"/>
<circle cx="463.7" cy="224.5" r="1.65" fill="#000"/>
<circle cx="449.2" cy="226.0" r="1.65" fill="#000"/>
<circle cx="400.7" cy="234.2" r="1.65" fill="#000"/>
<circle cx="443.4" cy="236.1" r="1.65" fill="#000"/>
<circle cx="436.6" cy="239.6" r="1.65" fill="#000"/>
<circle cx="433.7" cy="246.8" r="1.65" fill="#000"/>
<circle cx="465.6" cy="246.8" r="1.65" fill="#000"/>
<circle cx="450.7" cy="248.1" r="1.65" fill="#000"/>
<circle cx="439.5" cy="253.9" r="1.65" fill="#000"/>
<circle cx="441.4" cy="254.3" r="1.65" fill="#000"/>
<circle cx="444.3" cy="256.8" r="1.65" fill="#000"/>
<circle cx="449.2" cy="255.5" r="1.65" fill="#000"/>
<circle cx="455.0" cy="260.1" r="1.65" fill="#000"/>
<circle cx="437.2" cy="261.7" r="1.65" fill="#000"/>
<circle cx="465.1" cy="264.2" r="1.65" fill="#000"/>
<circle cx="460.8" cy="266.5" r="1.65" fill="#000"/>
<circle cx="435.6" cy="267.5" r="1.65" fill="#000"/>
<circle cx="439.9" cy="268.5" r="1.65" fill="#000"/>
<circle cx="465.6" cy="268.1" r="1.65" fill="#000"/>
<circle cx="470.5" cy="268.5" r="1.65" fill="#000"/>
<circle cx="531.7" cy="194.3" r="1.65" fill="#000"/>
<circle cx="541.2" cy="197.4" r="1.65" fill="#000"/>
<circle cx="531.1" cy="201.6" r="1.65" fill="#000"/>
<circle cx="505.5" cy="203.9" r="1.65" fill="#000"/>
<circle cx="525.7" cy="209.0" r="1.65" fill="#000"/>
<circle cx="529.2" cy="209.4" r="1.65" fill="#000"/>
<circle cx="531.5" cy="209.4" r="1.65" fill="#000"/>
<circle cx="478.8" cy="213.2" r="1.65" fill="#000"/>
<circle cx="510.4" cy="215.2" r="1.65" fill="#000"/>
<circle cx="516.8" cy="215.2" r="1.65" fill="#000"/>
<circle cx="520.1" cy="214.8" r="1.65" fill="#000"/>
<circle cx="513.3" cy="219.4" r="1.65" fill="#000"/>
<circle cx="500.1" cy="220.4" r="1.65" fill="#000"/>
<circle cx="504.0" cy="220.4" r="1.65" fill="#000"/>
<circle cx="474.0" cy="222.9" r="1.65" fill="#000"/>
<circle cx="490.4" cy="223.9" r="1.65" fill="#000"/>
<circle cx="508.8" cy="224.9" r="1.65" fill="#000"/>
<circle cx="526.8" cy="223.3" r="1.65" fill="#000"/>
<circle cx="479.2" cy="226.4" r="1.65" fill="#000"/>
<circle cx="499.2" cy="226.4" r="1.65" fill="#000"/>
<circle cx="523.0" cy="229.3" r="1.65" fill="#000"/>
<circle cx="505.0" cy="229.7" r="1.65" fill="#000"/>
<circle cx="503.6" cy="231.1" r="1.65" fill="#000"/>
<circle cx="502.1" cy="233.6" r="1.65" fill="#000"/>
<circle cx="478.4" cy="234.2" r="1.65" fill="#000"/>
<circle cx="521.0" cy="236.5" r="1.65" fill="#000"/>
<circle cx="499.5" cy="237.5" r="1.65" fill="#000"/>
<circle cx="495.3" cy="239.0" r="1.65" fill="#000"/>
<circle cx="480.4" cy="240.8" r="1.65" fill="#000"/>
<circle cx="480.4" cy="242.7" r="1.65" fill="#000"/>
<circle cx="487.1" cy="241.9" r="1.65" fill="#000"/>
<circle cx="499.2" cy="242.7" r="1.65" fill="#000"/>
<circle cx="533.4" cy="242.3" r="1.65" fill="#000"/>
<circle cx="486.6" cy="244.8" r="1.65" fill="#000"/>
<circle cx="474.9" cy="246.2" r="1.65" fill="#000"/>
<circle cx="476.5" cy="246.2" r="1.65" fill="#000"/>
<circle cx="524.9" cy="245.6" r="1.65" fill="#000"/>
<circle cx="505.9" cy="247.7" r="1.65" fill="#000"/>
<circle cx="507.5" cy="246.6" r="1.65" fill="#000"/>
<circle cx="511.2" cy="248.1" r="1.65" fill="#000"/>
<circle cx="512.9" cy="246.2" r="1.65" fill="#000"/>
<circle cx="481.1" cy="250.6" r="1.65" fill="#000"/>
<circle cx="479.4" cy="253.3" r="1.65" fill="#000"/>
<circle cx="488.5" cy="253.3" r="1.65" fill="#000"/>
<circle cx="529.2" cy="251.6" r="1.65" fill="#000"/>
<circle cx="526.3" cy="255.5" r="1.65" fill="#000"/>
<circle cx="539.4" cy="254.5" r="1.65" fill="#000"/>
<circle cx="503.4" cy="255.5" r="1.65" fill="#000"/>
<circle cx="516.6" cy="256.2" r="1.65" fill="#000"/>
<circle cx="500.1" cy="258.8" r="1.65" fill="#000"/>
<circle cx="488.5" cy="263.6" r="1.65" fill="#000"/>
<circle cx="477.3" cy="265.9" r="1.65" fill="#000"/>
<circle cx="548.5" cy="264.6" r="1.65" fill="#000"/>
<circle cx="548.5" cy="266.5" r="1.65" fill="#000"/>
<circle cx="520.5" cy="268.5" r="1.65" fill="#000"/>
<circle cx="507.5" cy="269.4" r="1.65" fill="#000"/>
<circle cx="563.1" cy="202.2" r="1.65" fill="#000"/>
<circle cx="555.3" cy="227.8" r="1.65" fill="#000"/>
<circle cx="593.1" cy="244.2" r="1.65" fill="#000"/>
<circle cx="607.8" cy="251.6" r="1.65" fill="#000"/>
<circle cx="587.5" cy="255.5" r="1.65" fill="#000"/>
<circle cx="592.7" cy="260.7" r="1.65" fill="#000"/>
<circle cx="609.2" cy="259.7" r="1.65" fill="#000"/>
<circle cx="561.7" cy="265.2" r="1.65" fill="#000"/>
<circle cx="610.7" cy="281.9" r="1.65" fill="#000"/>
<circle cx="614.6" cy="283.2" r="1.65" fill="#000"/>
<circle cx="596.6" cy="272.2" r="1.65" fill="#000"/>
<circle cx="596.6" cy="284.4" r="1.65" fill="#000"/>
<circle cx="609.2" cy="279.5" r="1.65" fill="#000"/>
<circle cx="555.3" cy="288.2" r="1.65" fill="#000"/>
<circle cx="554.9" cy="299.9" r="1.65" fill="#000"/>
<circle cx="562.3" cy="301.2" r="1.65" fill="#000"/>
<circle cx="571.0" cy="297.9" r="1.65" fill="#000"/>
<circle cx="573.3" cy="302.4" r="1.65" fill="#000"/>
<circle cx="567.1" cy="307.2" r="1.65" fill="#000"/>
<circle cx="590.4" cy="303.2" r="1.65" fill="#000"/>
<circle cx="590.4" cy="312.1" r="1.65" fill="#000"/>
<circle cx="571.0" cy="323.1" r="1.65" fill="#000"/>
<circle cx="584.0" cy="327.0" r="1.65" fill="#000"/>
<circle cx="588.4" cy="331.8" r="1.65" fill="#000"/>
<circle cx="565.2" cy="335.1" r="1.65" fill="#000"/>
<circle cx="515.6" cy="272.4" r="1.65" fill="#000"/>
<circle cx="519.1" cy="269.8" r="1.65" fill="#000"/>
<circle cx="487.9" cy="270.8" r="1.65" fill="#000"/>
<circle cx="483.7" cy="275.1" r="1.65" fill="#000"/>
<circle cx="485.0" cy="277.0" r="1.65" fill="#000"/>
<circle cx="492.0" cy="275.1" r="1.65" fill="#000"/>
<circle cx="474.0" cy="278.2" r="1.65" fill="#000"/>
<circle cx="478.2" cy="277.6" r="1.65" fill="#000"/>
<circle cx="481.7" cy="280.5" r="1.65" fill="#000"/>
<circle cx="486.2" cy="279.1" r="1.65" fill="#000"/>
<circle cx="493.0" cy="281.5" r="1.65" fill="#000"/>
<circle cx="531.1" cy="280.1" r="1.65" fill="#000"/>
<circle cx="519.5" cy="283.4" r="1.65" fill="#000"/>
<circle cx="475.9" cy="286.3" r="1.65" fill="#000"/>
<circle cx="476.9" cy="288.2" r="1.65" fill="#000"/>
<circle cx="505.9" cy="285.9" r="1.65" fill="#000"/>
<circle cx="508.8" cy="287.9" r="1.65" fill="#000"/>
<circle cx="549.5" cy="287.9" r="1.65" fill="#000"/>
<circle cx="475.9" cy="291.2" r="1.65" fill="#000"/>
<circle cx="486.6" cy="290.2" r="1.65" fill="#000"/>
<circle cx="517.6" cy="292.7" r="1.65" fill="#000"/>
<circle cx="516.6" cy="294.1" r="1.65" fill="#000"/>
<circle cx="524.7" cy="292.5" r="1.65" fill="#000"/>
<circle cx="483.7" cy="294.4" r="1.65" fill="#000"/>
<circle cx="475.9" cy="295.6" r="1.65" fill="#000"/>
<circle cx="500.1" cy="295.6" r="1.65" fill="#000"/>
<circle cx="501.7" cy="297.9" r="1.65" fill="#000"/>
<circle cx="493.3" cy="296.4" r="1.65" fill="#000"/>
<circle cx="487.5" cy="297.5" r="1.65" fill="#000"/>
<circle cx="514.6" cy="298.3" r="1.65" fill="#000"/>
<circle cx="526.3" cy="298.3" r="1.65" fill="#000"/>
<circle cx="482.3" cy="299.5" r="1.65" fill="#000"/>
<circle cx="475.9" cy="300.8" r="1.65" fill="#000"/>
<circle cx="478.8" cy="302.2" r="1.65" fill="#000"/>
<circle cx="521.8" cy="300.8" r="1.65" fill="#000"/>
<circle cx="519.9" cy="302.4" r="1.65" fill="#000"/>
<circle cx="474.0" cy="303.7" r="1.65" fill="#000"/>
<circle cx="494.3" cy="304.1" r="1.65" fill="#000"/>
<circle cx="540.8" cy="303.4" r="1.65" fill="#000"/>
<circle cx="509.8" cy="306.6" r="1.65" fill="#000"/>
<circle cx="517.6" cy="309.2" r="1.65" fill="#000"/>
<circle cx="474.0" cy="310.5" r="1.65" fill="#000"/>
<circle cx="512.7" cy="311.5" r="1.65" fill="#000"/>
<circle cx="516.6" cy="311.9" r="1.65" fill="#000"/>
<circle cx="496.2" cy="311.5" r="1.65" fill="#000"/>
<circle cx="494.3" cy="313.0" r="1.65" fill="#000"/>
<circle cx="497.2" cy="313.8" r="1.65" fill="#000"/>
<circle cx="475.9" cy="313.4" r="1.65" fill="#000"/>
<circle cx="477.3" cy="315.8" r="1.65" fill="#000"/>
<circle cx="482.3" cy="315.0" r="1.65" fill="#000"/>
<circle cx="485.6" cy="315.0" r="1.65" fill="#000"/>
<circle cx="500.1" cy="315.0" r="1.65" fill="#000"/>
<circle cx="474.9" cy="316.9" r="1.65" fill="#000"/>
<circle cx="529.2" cy="315.8" r="1.65" fill="#000"/>
<circle cx="531.1" cy="313.4" r="1.65" fill="#000"/>
<circle cx="533.0" cy="313.8" r="1.65" fill="#000"/>
<circle cx="495.9" cy="318.9" r="1.65" fill="#000"/>
<circle cx="506.9" cy="319.2" r="1.65" fill="#000"/>
<circle cx="478.2" cy="319.6" r="1.65" fill="#000"/>
<circle cx="478.8" cy="322.1" r="1.65" fill="#000"/>
<circle cx="531.1" cy="319.8" r="1.65" fill="#000"/>
<circle cx="541.8" cy="319.2" r="1.65" fill="#000"/>
<circle cx="515.6" cy="320.8" r="1.65" fill="#000"/>
<circle cx="507.5" cy="322.1" r="1.65" fill="#000"/>
<circle cx="506.3" cy="323.5" r="1.65" fill="#000"/>
<circle cx="474.0" cy="323.1" r="1.65" fill="#000"/>
<circle cx="474.9" cy="326.0" r="1.65" fill="#000"/>
<circle cx="476.9" cy="327.4" r="1.65" fill="#000"/>
<circle cx="536.9" cy="324.1" r="1.65" fill="#000"/>
<circle cx="538.9" cy="323.5" r="1.65" fill="#000"/>
<circle cx="517.2" cy="327.0" r="1.65" fill="#000"/>
<circle cx="481.7" cy="328.5" r="1.65" fill="#000"/>
<circle cx="496.2" cy="330.5" r="1.65" fill="#000"/>
<circle cx="546.6" cy="328.0" r="1.65" fill="#000"/>
<circle cx="477.3" cy="333.8" r="1.65" fill="#000"/>
<circle cx="474.0" cy="337.1" r="1.65" fill="#000"/>
<circle cx="480.7" cy="337.1" r="1.65" fill="#000"/>
<circle cx="507.9" cy="336.3" r="1.65" fill="#000"/>
<circle cx="484.6" cy="341.5" r="1.65" fill="#000"/>
<circle cx="456.2" cy="270.6" r="1.65" fill="#000"/>
<circle cx="472.2" cy="269.4" r="1.65" fill="#000"/>
<circle cx="436.9" cy="275.2" r="1.65" fill="#000"/>
<circle cx="447.3" cy="273.5" r="1.65" fill="#000"/>
<circle cx="449.5" cy="278.6" r="1.65" fill="#000"/>
<circle cx="470.8" cy="275.8" r="1.65" fill="#000"/>
<circle cx="459.2" cy="280.3" r="1.65" fill="#000"/>
<circle cx="437.8" cy="282.4" r="1.65" fill="#000"/>
<circle cx="442.7" cy="281.7" r="1.65" fill="#000"/>
<circle cx="453.8" cy="282.4" r="1.65" fill="#000"/>
<circle cx="456.7" cy="283.6" r="1.65" fill="#000"/>
<circle cx="459.0" cy="283.9" r="1.65" fill="#000"/>
<circle cx="462.1" cy="282.9" r="1.65" fill="#000"/>
<circle cx="465.4" cy="283.2" r="1.65" fill="#000"/>
<circle cx="470.3" cy="281.0" r="1.65" fill="#000"/>
<circle cx="451.4" cy="284.9" r="1.65" fill="#000"/>
<circle cx="462.1" cy="285.3" r="1.65" fill="#000"/>
<circle cx="434.0" cy="285.8" r="1.65" fill="#000"/>
<circle cx="433.5" cy="287.3" r="1.65" fill="#000"/>
<circle cx="439.8" cy="286.8" r="1.65" fill="#000"/>
<circle cx="438.0" cy="288.4" r="1.65" fill="#000"/>
<circle cx="447.5" cy="289.0" r="1.65" fill="#000"/>
<circle cx="454.8" cy="289.2" r="1.65" fill="#000"/>
<circle cx="466.4" cy="288.7" r="1.65" fill="#000"/>
<circle cx="471.7" cy="287.3" r="1.65" fill="#000"/>
<circle cx="439.3" cy="291.0" r="1.65" fill="#000"/>
<circle cx="446.1" cy="292.6" r="1.65" fill="#000"/>
<circle cx="450.0" cy="293.1" r="1.65" fill="#000"/>
<circle cx="458.2" cy="291.2" r="1.65" fill="#000"/>
<circle cx="461.9" cy="290.7" r="1.65" fill="#000"/>
<circle cx="459.0" cy="293.1" r="1.65" fill="#000"/>
<circle cx="442.7" cy="295.0" r="1.65" fill="#000"/>
<circle cx="445.1" cy="294.5" r="1.65" fill="#000"/>
<circle cx="448.0" cy="295.5" r="1.65" fill="#000"/>
<circle cx="438.3" cy="296.0" r="1.65" fill="#000"/>
<circle cx="440.7" cy="296.2" r="1.65" fill="#000"/>
<circle cx="454.3" cy="295.8" r="1.65" fill="#000"/>
<circle cx="461.1" cy="295.8" r="1.65" fill="#000"/>
<circle cx="468.8" cy="295.5" r="1.65" fill="#000"/>
<circle cx="455.3" cy="297.4" r="1.65" fill="#000"/>
<circle cx="462.1" cy="297.4" r="1.65" fill="#000"/>
<circle cx="464.5" cy="298.4" r="1.65" fill="#000"/>
<circle cx="437.4" cy="298.4" r="1.65" fill="#000"/>
<circle cx="441.2" cy="298.9" r="1.65" fill="#000"/>
<circle cx="445.6" cy="298.1" r="1.65" fill="#000"/>
<circle cx="434.9" cy="302.3" r="1.65" fill="#000"/>
<circle cx="440.3" cy="301.8" r="1.65" fill="#000"/>
<circle cx="443.7" cy="302.3" r="1.65" fill="#000"/>
<circle cx="452.9" cy="302.3" r="1.65" fill="#000"/>
<circle cx="459.0" cy="301.3" r="1.65" fill="#000"/>
<circle cx="463.0" cy="302.8" r="1.65" fill="#000"/>
<circle cx="445.1" cy="303.7" r="1.65" fill="#000"/>
<circle cx="438.8" cy="303.7" r="1.65" fill="#000"/>
<circle cx="418.0" cy="275.9" r="1.65" fill="#000"/>
<circle cx="409.3" cy="284.4" r="1.65" fill="#000"/>
<circle cx="406.9" cy="294.1" r="1.65" fill="#000"/>
<circle cx="419.3" cy="287.8" r="1.65" fill="#000"/>
<circle cx="416.1" cy="291.2" r="1.65" fill="#000"/>
<circle cx="415.1" cy="297.2" r="1.65" fill="#000"/>
<circle cx="423.0" cy="289.2" r="1.65" fill="#000"/>
<circle cx="425.0" cy="289.0" r="1.65" fill="#000"/>
<circle cx="420.6" cy="294.5" r="1.65" fill="#000"/>
<circle cx="422.1" cy="293.6" r="1.65" fill="#000"/>
<circle cx="423.0" cy="296.0" r="1.65" fill="#000"/>
<circle cx="424.0" cy="298.4" r="1.65" fill="#000"/>
<circle cx="425.0" cy="300.8" r="1.65" fill="#000"/>
<circle cx="428.8" cy="294.1" r="1.65" fill="#000"/>
<circle cx="430.3" cy="293.1" r="1.65" fill="#000"/>
<circle cx="427.9" cy="296.5" r="1.65" fill="#000"/>
<circle cx="431.3" cy="300.8" r="1.65" fill="#000"/>
<circle cx="429.8" cy="303.3" r="1.65" fill="#000"/>
<circle cx="435.9" cy="305.8" r="1.65" fill="#000"/>
<circle cx="437.4" cy="304.4" r="1.65" fill="#000"/>
<circle cx="438.8" cy="307.3" r="1.65" fill="#000"/>
<circle cx="441.7" cy="305.3" r="1.65" fill="#000"/>
<circle cx="445.1" cy="305.8" r="1.65" fill="#000"/>
<circle cx="471.7" cy="305.3" r="1.65" fill="#000"/>
<circle cx="434.0" cy="309.7" r="1.65" fill="#000"/>
<circle cx="435.4" cy="311.6" r="1.65" fill="#000"/>
<circle cx="440.7" cy="309.7" r="1.65" fill="#000"/>
<circle cx="448.0" cy="309.2" r="1.65" fill="#000"/>
<circle cx="450.4" cy="308.2" r="1.65" fill="#000"/>
<circle cx="452.9" cy="309.7" r="1.65" fill="#000"/>
<circle cx="454.8" cy="308.7" r="1.65" fill="#000"/>
<circle cx="449.5" cy="312.1" r="1.65" fill="#000"/>
<circle cx="456.2" cy="312.1" r="1.65" fill="#000"/>
<circle cx="459.6" cy="309.7" r="1.65" fill="#000"/>
<circle cx="461.1" cy="311.1" r="1.65" fill="#000"/>
<circle cx="464.0" cy="312.6" r="1.65" fill="#000"/>
<circle cx="459.2" cy="312.1" r="1.65" fill="#000"/>
<circle cx="446.1" cy="314.5" r="1.65" fill="#000"/>
<circle cx="453.8" cy="315.5" r="1.65" fill="#000"/>
<circle cx="465.9" cy="314.5" r="1.65" fill="#000"/>
<circle cx="468.4" cy="315.0" r="1.65" fill="#000"/>
<circle cx="434.0" cy="316.0" r="1.65" fill="#000"/>
<circle cx="437.4" cy="315.0" r="1.65" fill="#000"/>
<circle cx="435.9" cy="317.9" r="1.65" fill="#000"/>
<circle cx="440.7" cy="317.4" r="1.65" fill="#000"/>
<circle cx="457.7" cy="317.9" r="1.65" fill="#000"/>
<circle cx="465.9" cy="318.4" r="1.65" fill="#000"/>
<circle cx="467.9" cy="317.9" r="1.65" fill="#000"/>
<circle cx="444.1" cy="319.4" r="1.65" fill="#000"/>
<circle cx="472.7" cy="320.3" r="1.65" fill="#000"/>
<circle cx="434.0" cy="323.7" r="1.65" fill="#000"/>
<circle cx="438.8" cy="323.7" r="1.65" fill="#000"/>
<circle cx="448.5" cy="323.7" r="1.65" fill="#000"/>
<circle cx="450.9" cy="324.7" r="1.65" fill="#000"/>
<circle cx="458.7" cy="323.2" r="1.65" fill="#000"/>
<circle cx="466.4" cy="324.7" r="1.65" fill="#000"/>
<circle cx="471.3" cy="324.7" r="1.65" fill="#000"/>
<circle cx="444.6" cy="325.7" r="1.65" fill="#000"/>
<circle cx="453.3" cy="326.1" r="1.65" fill="#000"/>
<circle cx="457.7" cy="326.6" r="1.65" fill="#000"/>
<circle cx="434.9" cy="327.1" r="1.65" fill="#000"/>
<circle cx="439.8" cy="327.6" r="1.65" fill="#000"/>
<circle cx="450.4" cy="328.1" r="1.65" fill="#000"/>
<circle cx="443.7" cy="329.1" r="1.65" fill="#000"/>
<circle cx="434.0" cy="329.1" r="1.65" fill="#000"/>
<circle cx="454.8" cy="331.0" r="1.65" fill="#000"/>
<circle cx="457.7" cy="330.5" r="1.65" fill="#000"/>
<circle cx="435.9" cy="331.5" r="1.65" fill="#000"/>
<circle cx="442.2" cy="332.0" r="1.65" fill="#000"/>
<circle cx="452.9" cy="335.4" r="1.65" fill="#000"/>
<circle cx="457.7" cy="335.4" r="1.65" fill="#000"/>
<circle cx="467.9" cy="333.9" r="1.65" fill="#000"/>
<circle cx="434.9" cy="334.4" r="1.65" fill="#000"/>
<circle cx="438.8" cy="335.4" r="1.65" fill="#000"/>
<circle cx="441.2" cy="338.3" r="1.65" fill="#000"/>
<circle cx="448.0" cy="338.7" r="1.65" fill="#000"/>
<circle cx="458.7" cy="338.7" r="1.65" fill="#000"/>
<circle cx="462.1" cy="338.3" r="1.65" fill="#000"/>
<circle cx="434.0" cy="338.7" r="1.65" fill="#000"/>
<circle cx="423.5" cy="304.4" r="1.65" fill="#000"/>
<circle cx="425.0" cy="302.4" r="1.65" fill="#000"/>
<circle cx="422.1" cy="307.3" r="1.65" fill="#000"/>
<circle cx="417.7" cy="307.3" r="1.65" fill="#000"/>
<circle cx="416.2" cy="310.2" r="1.65" fill="#000"/>
<circle cx="421.1" cy="310.7" r="1.65" fill="#000"/>
<circle cx="429.8" cy="306.3" r="1.65" fill="#000"/>
<circle cx="431.3" cy="309.7" r="1.65" fill="#000"/>
<circle cx="418.2" cy="314.0" r="1.65" fill="#000"/>
<circle cx="424.0" cy="314.5" r="1.65" fill="#000"/>
<circle cx="427.9" cy="315.5" r="1.65" fill="#000"/>
<circle cx="431.3" cy="316.5" r="1.65" fill="#000"/>
<circle cx="409.0" cy="316.5" r="1.65" fill="#000"/>
<circle cx="416.2" cy="317.4" r="1.65" fill="#000"/>
<circle cx="420.1" cy="318.4" r="1.65" fill="#000"/>
<circle cx="425.0" cy="319.4" r="1.65" fill="#000"/>
<circle cx="427.9" cy="320.8" r="1.65" fill="#000"/>
<circle cx="412.4" cy="320.8" r="1.65" fill="#000"/>
<circle cx="415.3" cy="321.3" r="1.65" fill="#000"/>
<circle cx="405.6" cy="322.8" r="1.65" fill="#000"/>
<circle cx="423.0" cy="322.3" r="1.65" fill="#000"/>
<circle cx="429.8" cy="323.2" r="1.65" fill="#000"/>
<circle cx="401.7" cy="325.2" r="1.65" fill="#000"/>
<circle cx="410.4" cy="326.1" r="1.65" fill="#000"/>
<circle cx="416.7" cy="325.7" r="1.65" fill="#000"/>
<circle cx="420.1" cy="325.7" r="1.65" fill="#000"/>
<circle cx="424.0" cy="325.2" r="1.65" fill="#000"/>
<circle cx="404.1" cy="328.1" r="1.65" fill="#000"/>
<circle cx="407.5" cy="329.1" r="1.65" fill="#000"/>
<circle cx="413.3" cy="328.6" r="1.65" fill="#000"/>
<circle cx="419.2" cy="330.0" r="1.65" fill="#000"/>
<circle cx="422.1" cy="329.5" r="1.65" fill="#000"/>
<circle cx="430.8" cy="328.1" r="1.65" fill="#000"/>
<circle cx="405.1" cy="331.0" r="1.65" fill="#000"/>
<circle cx="404.6" cy="332.9" r="1.65" fill="#000"/>
<circle cx="407.0" cy="332.0" r="1.65" fill="#000"/>
<circle cx="409.0" cy="333.9" r="1.65" fill="#000"/>
<circle cx="413.3" cy="331.5" r="1.65" fill="#000"/>
<circle cx="415.8" cy="332.9" r="1.65" fill="#000"/>
<circle cx="418.2" cy="333.4" r="1.65" fill="#000"/>
<circle cx="424.0" cy="333.9" r="1.65" fill="#000"/>
<circle cx="428.8" cy="332.0" r="1.65" fill="#000"/>
<circle cx="402.7" cy="337.3" r="1.65" fill="#000"/>
<circle cx="407.0" cy="336.8" r="1.65" fill="#000"/>
<circle cx="411.4" cy="338.3" r="1.65" fill="#000"/>
<circle cx="414.8" cy="336.8" r="1.65" fill="#000"/>
<circle cx="419.2" cy="336.3" r="1.65" fill="#000"/>
<circle cx="416.2" cy="338.7" r="1.65" fill="#000"/>
<circle cx="427.9" cy="337.8" r="1.65" fill="#000"/>
<circle cx="431.3" cy="336.8" r="1.65" fill="#000"/>
<circle cx="402.7" cy="338.9" r="1.65" fill="#000"/>
<circle cx="408.5" cy="338.9" r="1.65" fill="#000"/>
<circle cx="410.9" cy="340.3" r="1.65" fill="#000"/>
<circle cx="417.2" cy="336.0" r="1.65" fill="#000"/>
<circle cx="419.2" cy="339.4" r="1.65" fill="#000"/>
<circle cx="423.0" cy="339.4" r="1.65" fill="#000"/>
<circle cx="424.0" cy="341.8" r="1.65" fill="#000"/>
<circle cx="429.8" cy="341.3" r="1.65" fill="#000"/>
<circle cx="413.3" cy="341.8" r="1.65" fill="#000"/>
<circle cx="418.2" cy="344.2" r="1.65" fill="#000"/>
<circle cx="421.6" cy="342.7" r="1.65" fill="#000"/>
<circle cx="425.0" cy="344.2" r="1.65" fill="#000"/>
<circle cx="427.9" cy="347.1" r="1.65" fill="#000"/>
<circle cx="413.8" cy="346.1" r="1.65" fill="#000"/>
<circle cx="415.8" cy="347.1" r="1.65" fill="#000"/>
<circle cx="421.1" cy="348.1" r="1.65" fill="#000"/>
<circle cx="425.0" cy="349.0" r="1.65" fill="#000"/>
<circle cx="427.9" cy="350.5" r="1.65" fill="#000"/>
<circle cx="413.3" cy="349.5" r="1.65" fill="#000"/>
<circle cx="416.7" cy="350.0" r="1.65" fill="#000"/>
<circle cx="419.2" cy="349.5" r="1.65" fill="#000"/>
<circle cx="415.3" cy="353.9" r="1.65" fill="#000"/>
<circle cx="419.2" cy="354.9" r="1.65" fill="#000"/>
<circle cx="411.4" cy="355.3" r="1.65" fill="#000"/>
<circle cx="411.9" cy="358.2" r="1.65" fill="#000"/>
<circle cx="413.8" cy="359.7" r="1.65" fill="#000"/>
<circle cx="415.8" cy="360.7" r="1.65" fill="#000"/>
<circle cx="405.6" cy="360.2" r="1.65" fill="#000"/>
<circle cx="406.1" cy="362.1" r="1.65" fill="#000"/>
<circle cx="407.0" cy="365.0" r="1.65" fill="#000"/>
<circle cx="398.9" cy="354.9" r="1.65" fill="#000"/>
<circle cx="401.7" cy="342.3" r="1.65" fill="#000"/>
<circle cx="403.7" cy="343.7" r="1.65" fill="#000"/>
<circle cx="406.6" cy="342.7" r="1.65" fill="#000"/>
<circle cx="407.5" cy="345.2" r="1.65" fill="#000"/>
<circle cx="404.6" cy="346.6" r="1.65" fill="#000"/>
<circle cx="401.7" cy="347.6" r="1.65" fill="#000"/>
<circle cx="400.3" cy="349.5" r="1.65" fill="#000"/>
<circle cx="403.2" cy="349.5" r="1.65" fill="#000"/>
<circle cx="406.6" cy="348.6" r="1.65" fill="#000"/>
<circle cx="408.5" cy="347.6" r="1.65" fill="#000"/>
<circle cx="398.8" cy="352.0" r="1.65" fill="#000"/>
<circle cx="402.2" cy="352.0" r="1.65" fill="#000"/>
<circle cx="405.1" cy="352.0" r="1.65" fill="#000"/>
<circle cx="407.5" cy="351.5" r="1.65" fill="#000"/>
<circle cx="401.8" cy="354.4" r="1.65" fill="#000"/>
<circle cx="403.7" cy="354.4" r="1.65" fill="#000"/>
<circle cx="406.6" cy="354.4" r="1.65" fill="#000"/>
<circle cx="400.9" cy="356.8" r="1.65" fill="#000"/>
<circle cx="403.3" cy="357.3" r="1.65" fill="#000"/>
<circle cx="398.9" cy="359.2" r="1.65" fill="#000"/>
<circle cx="401.8" cy="359.7" r="1.65" fill="#000"/>
<circle cx="398.7" cy="361.6" r="1.65" fill="#000"/>
<circle cx="400.4" cy="362.1" r="1.65" fill="#000"/>
<circle cx="403.3" cy="362.6" r="1.65" fill="#000"/>
<circle cx="397.7" cy="364.1" r="1.65" fill="#000"/>
<circle cx="399.4" cy="364.5" r="1.65" fill="#000"/>
<circle cx="401.8" cy="365.0" r="1.65" fill="#000"/>
<circle cx="397.2" cy="367.0" r="1.65" fill="#000"/>
<circle cx="398.9" cy="367.0" r="1.65" fill="#000"/>
<circle cx="401.4" cy="368.4" r="1.65" fill="#000"/>
<circle cx="396.7" cy="369.4" r="1.65" fill="#000"/>
<circle cx="398.7" cy="369.4" r="1.65" fill="#000"/>
<circle cx="396.3" cy="370.3" r="1.65" fill="#000"/>
<circle cx="399.9" cy="369.9" r="1.65" fill="#000"/>
<circle cx="398.2" cy="370.3" r="1.65" fill="#000"/>
<circle cx="450.4" cy="339.4" r="1.65" fill="#000"/>
<circle cx="450.9" cy="343.2" r="1.65" fill="#000"/>
<circle cx="435.9" cy="345.2" r="1.65" fill="#000"/>
<circle cx="434.5" cy="350.0" r="1.65" fill="#000"/>
<circle cx="434.9" cy="352.4" r="1.65" fill="#000"/>
<circle cx="444.6" cy="350.3" r="1.65" fill="#000"/>
<circle cx="468.8" cy="344.7" r="1.65" fill="#000"/>
<circle cx="470.3" cy="343.2" r="1.65" fill="#000"/>
<circle cx="472.2" cy="341.8" r="1.65" fill="#000"/>
<circle cx="448.5" cy="360.7" r="1.65" fill="#000"/>
<circle cx="445.1" cy="363.3" r="1.65" fill="#000"/>
<circle cx="435.4" cy="365.0" r="1.65" fill="#000"/>
<circle cx="477.6" cy="348.4" r="1.65" fill="#000"/>
<circle cx="483.8" cy="351.3" r="1.65" fill="#000"/>
<circle cx="514.8" cy="347.5" r="1.65" fill="#000"/>
<circle cx="401.1" cy="346.3" r="1.65" fill="#000"/>
<circle cx="403.8" cy="346.6" r="1.65" fill="#000"/>
<circle cx="405.3" cy="346.4" r="1.65" fill="#000"/>
<circle cx="400.9" cy="348.2" r="1.65" fill="#000"/>
<circle cx="403.2" cy="348.2" r="1.65" fill="#000"/>
<circle cx="405.1" cy="348.5" r="1.65" fill="#000"/>
<circle cx="400.4" cy="350.6" r="1.65" fill="#000"/>
<circle cx="402.8" cy="350.9" r="1.65" fill="#000"/>
<circle cx="404.5" cy="350.6" r="1.65" fill="#000"/>
<circle cx="401.2" cy="352.3" r="1.65" fill="#000"/>
<circle cx="402.8" cy="352.9" r="1.65" fill="#000"/>
<circle cx="404.0" cy="352.4" r="1.65" fill="#000"/>
<circle cx="400.9" cy="354.6" r="1.65" fill="#000"/>
<circle cx="402.7" cy="354.7" r="1.65" fill="#000"/>
<circle cx="399.7" cy="356.7" r="1.65" fill="#000"/>
<circle cx="402.1" cy="356.2" r="1.65" fill="#000"/>
<circle cx="399.7" cy="358.8" r="1.65" fill="#000"/>
<circle cx="398.9" cy="360.6" r="1.65" fill="#000"/>
<circle cx="401.1" cy="360.7" r="1.65" fill="#000"/>
<circle cx="399.0" cy="362.3" r="1.65" fill="#000"/>
<circle cx="401.2" cy="362.6" r="1.65" fill="#000"/>
<circle cx="398.6" cy="364.8" r="1.65" fill="#000"/>
<circle cx="400.5" cy="364.7" r="1.65" fill="#000"/>
<circle cx="398.5" cy="366.2" r="1.65" fill="#000"/>
<circle cx="400.5" cy="366.4" r="1.65" fill="#000"/>
<circle cx="398.5" cy="368.2" r="1.65" fill="#000"/>
<circle cx="400.1" cy="368.3" r="1.65" fill="#000"/>
<circle cx="398.5" cy="370.3" r="1.65" fill="#000"/>
<circle cx="399.6" cy="370.4" r="1.65" fill="#000"/>
<circle cx="434.9" cy="309.2" r="1.65" fill="#000"/>
<circle cx="442.7" cy="307.3" r="1.65" fill="#000"/>
<circle cx="438.8" cy="311.6" r="1.65" fill="#000"/>
<circle cx="441.2" cy="312.6" r="1.65" fill="#000"/>
<circle cx="435.4" cy="314.5" r="1.65" fill="#000"/>
<circle cx="444.1" cy="301.9" r="1.65" fill="#000"/>
<circle cx="445.6" cy="304.4" r="1.65" fill="#000"/>
<circle cx="452.4" cy="307.7" r="1.65" fill="#000"/>
<circle cx="409.5" cy="317.4" r="1.65" fill="#000"/>
<circle cx="413.3" cy="319.4" r="1.65" fill="#000"/>
<circle cx="410.4" cy="323.2" r="1.65" fill="#000"/>
<circle cx="415.3" cy="324.2" r="1.65" fill="#000"/>
<circle cx="407.5" cy="324.2" r="1.65" fill="#000"/>
<circle cx="412.4" cy="326.2" r="1.65" fill="#000"/>
<circle cx="408.5" cy="328.1" r="1.65" fill="#000"/>
<circle cx="416.2" cy="328.1" r="1.65" fill="#000"/>
<circle cx="411.4" cy="331.0" r="1.65" fill="#000"/>
<circle cx="406.6" cy="333.9" r="1.65" fill="#000"/>
<circle cx="410.4" cy="334.9" r="1.65" fill="#000"/>
<circle cx="414.3" cy="334.9" r="1.65" fill="#000"/>
<circle cx="418.2" cy="329.1" r="1.65" fill="#000"/>
<circle cx="405.6" cy="336.8" r="1.65" fill="#000"/>
<circle cx="409.5" cy="338.3" r="1.65" fill="#000"/>
<circle cx="419.2" cy="323.2" r="1.65" fill="#000"/>
<circle cx="422.1" cy="326.2" r="1.65" fill="#000"/>
<circle cx="417.2" cy="318.4" r="1.65" fill="#000"/>
<circle cx="422.1" cy="317.4" r="1.65" fill="#000"/>
<circle cx="415.3" cy="313.6" r="1.65" fill="#000"/>
<circle cx="420.1" cy="311.6" r="1.65" fill="#000"/>
<circle cx="423.0" cy="308.7" r="1.65" fill="#000"/>
<circle cx="426.9" cy="305.8" r="1.65" fill="#000"/>
<circle cx="420.1" cy="305.8" r="1.65" fill="#000"/>
<circle cx="394.9" cy="369.8" r="0.9" fill="#e00000"/>
<circle cx="406.6" cy="347.6" r="0.9" fill="#e00000"/>
</g>
<line x1="393.30" y1="373.30" x2="393.30" y2="363.80" stroke="#3a3a3a" stroke-width="1.4" />
<line x1="393.30" y1="93.50" x2="393.30" y2="103.00" stroke="#3a3a3a" stroke-width="1.4" />
<line x1="455.75" y1="373.30" x2="455.75" y2="363.80" stroke="#3a3a3a" stroke-width="1.4" />
<line x1="455.75" y1="93.50" x2="455.75" y2="103.00" stroke="#3a3a3a" stroke-width="1.4" />
<line x1="518.20" y1="373.30" x2="518.20" y2="363.80" stroke="#3a3a3a" stroke-width="1.4" />
<line x1="518.20" y1="93.50" x2="518.20" y2="103.00" stroke="#3a3a3a" stroke-width="1.4" />
<line x1="580.65" y1="373.30" x2="580.65" y2="363.80" stroke="#3a3a3a" stroke-width="1.4" />
<line x1="580.65" y1="93.50" x2="580.65" y2="103.00" stroke="#3a3a3a" stroke-width="1.4" />
<line x1="643.10" y1="373.30" x2="643.10" y2="363.80" stroke="#3a3a3a" stroke-width="1.4" />
<line x1="643.10" y1="93.50" x2="643.10" y2="103.00" stroke="#3a3a3a" stroke-width="1.4" />
<line x1="393.40" y1="373.30" x2="402.90" y2="373.30" stroke="#3a3a3a" stroke-width="1.4" />
<line x1="668.20" y1="373.30" x2="658.70" y2="373.30" stroke="#3a3a3a" stroke-width="1.4" />
<line x1="393.40" y1="322.54" x2="402.90" y2="322.54" stroke="#3a3a3a" stroke-width="1.4" />
<line x1="668.20" y1="322.54" x2="658.70" y2="322.54" stroke="#3a3a3a" stroke-width="1.4" />
<line x1="393.40" y1="271.78" x2="402.90" y2="271.78" stroke="#3a3a3a" stroke-width="1.4" />
<line x1="668.20" y1="271.78" x2="658.70" y2="271.78" stroke="#3a3a3a" stroke-width="1.4" />
<line x1="393.40" y1="221.02" x2="402.90" y2="221.02" stroke="#3a3a3a" stroke-width="1.4" />
<line x1="668.20" y1="221.02" x2="658.70" y2="221.02" stroke="#3a3a3a" stroke-width="1.4" />
<line x1="393.40" y1="170.26" x2="402.90" y2="170.26" stroke="#3a3a3a" stroke-width="1.4" />
<line x1="668.20" y1="170.26" x2="658.70" y2="170.26" stroke="#3a3a3a" stroke-width="1.4" />
<line x1="393.40" y1="119.50" x2="402.90" y2="119.50" stroke="#3a3a3a" stroke-width="1.4" />
<line x1="668.20" y1="119.50" x2="658.70" y2="119.50" stroke="#3a3a3a" stroke-width="1.4" />
<rect x="393.40" y="93.50" width="274.80" height="279.80" fill="none" stroke="#1a1a1a" stroke-width="1.2" />
<text x="393.30" y="389.90" font-family='"Liberation Serif", serif' font-size="14.2" text-anchor="middle" fill="#000" stroke="#000" stroke-width="0.12" textLength="38.00" lengthAdjust="spacingAndGlyphs" >0.000</text>
<text x="455.75" y="389.90" font-family='"Liberation Serif", serif' font-size="14.2" text-anchor="middle" fill="#000" stroke="#000" stroke-width="0.12" textLength="38.00" lengthAdjust="spacingAndGlyphs" >0.025</text>
<text x="518.20" y="389.90" font-family='"Liberation Serif", serif' font-size="14.2" text-anchor="middle" fill="#000" stroke="#000" stroke-width="0.12" textLength="38.00" lengthAdjust="spacingAndGlyphs" >0.050</text>
<text x="580.65" y="389.90" font-family='"Liberation Serif", serif' font-size="14.2" text-anchor="middle" fill="#000" stroke="#000" stroke-width="0.12" textLength="38.00" lengthAdjust="spacingAndGlyphs" >0.075</text>
<text x="643.10" y="389.90" font-family='"Liberation Serif", serif' font-size="14.2" text-anchor="middle" fill="#000" stroke="#000" stroke-width="0.12" textLength="38.00" lengthAdjust="spacingAndGlyphs" >0.100</text>
<text x="385.50" y="372.30" font-family='"Liberation Serif", serif' font-size="14.2" text-anchor="middle" fill="#000" stroke="#000" stroke-width="0.12" textLength="7.50" lengthAdjust="spacingAndGlyphs" transform="rotate(-90 385.50 372.30)" >0</text>
<text x="385.50" y="326.04" font-family='"Liberation Serif", serif' font-size="14.2" text-anchor="middle" fill="#000" stroke="#000" stroke-width="0.12" textLength="16.20" lengthAdjust="spacingAndGlyphs" transform="rotate(-90 385.50 326.04)" >10</text>
<text x="385.50" y="275.28" font-family='"Liberation Serif", serif' font-size="14.2" text-anchor="middle" fill="#000" stroke="#000" stroke-width="0.12" textLength="16.20" lengthAdjust="spacingAndGlyphs" transform="rotate(-90 385.50 275.28)" >20</text>
<text x="385.50" y="224.52" font-family='"Liberation Serif", serif' font-size="14.2" text-anchor="middle" fill="#000" stroke="#000" stroke-width="0.12" textLength="16.20" lengthAdjust="spacingAndGlyphs" transform="rotate(-90 385.50 224.52)" >30</text>
<text x="385.50" y="173.76" font-family='"Liberation Serif", serif' font-size="14.2" text-anchor="middle" fill="#000" stroke="#000" stroke-width="0.12" textLength="16.20" lengthAdjust="spacingAndGlyphs" transform="rotate(-90 385.50 173.76)" >40</text>
<text x="385.50" y="123.00" font-family='"Liberation Serif", serif' font-size="14.2" text-anchor="middle" fill="#000" stroke="#000" stroke-width="0.12" textLength="16.20" lengthAdjust="spacingAndGlyphs" transform="rotate(-90 385.50 123.00)" >50</text>
<text x="530.60" y="410.00" font-family='"Liberation Serif", serif' font-size="14.2" text-anchor="middle" fill="#000" stroke="#000" stroke-width="0.12" textLength="52.60" lengthAdjust="spacingAndGlyphs" >redshift</text>
<text x="0" y="0" transform="translate(362.20,264.80) rotate(-90)" font-family='"Liberation Serif", serif' font-size="14.6" stroke="#000" stroke-width="0.12" textLength="62.00" lengthAdjust="spacingAndGlyphs" >R<tspan font-size="10.0" font-family='"Liberation Sans", sans-serif' dy="3.0">25</tspan><tspan dy="-3.0"> (kpc)</tspan></text>
<text x="0" y="0" transform="translate(361.80,73.60) rotate(-90)" font-family='"Liberation Serif", serif' font-size="14.6" stroke="#000" stroke-width="0.12" textLength="51.80" lengthAdjust="spacingAndGlyphs" >N<tspan font-size="10.0" font-family='"Liberation Sans", sans-serif' dy="3.0">galaxies</tspan></text>
<text x="0" y="0" transform="translate(444.30,172.50) rotate(-72)" font-family='"Liberation Serif", serif' font-size="15" stroke="#000" stroke-width="0.12" textLength="63.00" lengthAdjust="spacingAndGlyphs" >R<tspan font-size="10.0" font-family='"Liberation Sans", sans-serif' dy="3.0">25</tspan><tspan dy="-3.0" font-family='"Liberation Sans", sans-serif'> = 84″</tspan></text>
<text x="0" y="0" transform="translate(608.60,281.60) rotate(-18)" font-family='"Liberation Serif", serif' font-size="15" stroke="#000" stroke-width="0.12" textLength="63.00" lengthAdjust="spacingAndGlyphs" >R<tspan font-size="10.0" font-family='"Liberation Sans", sans-serif' dy="3.0">25</tspan><tspan dy="-3.0" font-family='"Liberation Sans", sans-serif'> = 10″</tspan></text>
<rect x="668.40" y="93.50" width="90.90" height="279.80" fill="#e6e8f1" stroke="none" stroke-width="0" />
<rect x="668.40" y="360.61" width="29.02" height="12.69" fill="#1e90ff" stroke="#000" stroke-width="0.8" />
<rect x="668.40" y="347.92" width="53.35" height="12.69" fill="#1e90ff" stroke="#000" stroke-width="0.8" />
<rect x="668.40" y="335.23" width="67.39" height="12.69" fill="#1e90ff" stroke="#000" stroke-width="0.8" />
<rect x="668.40" y="322.54" width="87.05" height="12.69" fill="#1e90ff" stroke="#000" stroke-width="0.8" />
<rect x="668.40" y="309.85" width="82.37" height="12.69" fill="#1e90ff" stroke="#000" stroke-width="0.8" />
<rect x="668.40" y="297.16" width="68.33" height="12.69" fill="#1e90ff" stroke="#000" stroke-width="0.8" />
<rect x="668.40" y="284.47" width="54.29" height="12.69" fill="#1e90ff" stroke="#000" stroke-width="0.8" />
<rect x="668.40" y="271.78" width="30.89" height="12.69" fill="#1e90ff" stroke="#000" stroke-width="0.8" />
<rect x="668.40" y="259.09" width="20.59" height="12.69" fill="#1e90ff" stroke="#000" stroke-width="0.8" />
<rect x="668.40" y="246.40" width="21.53" height="12.69" fill="#1e90ff" stroke="#000" stroke-width="0.8" />
<rect x="668.40" y="233.71" width="16.85" height="12.69" fill="#1e90ff" stroke="#000" stroke-width="0.8" />
<rect x="668.40" y="221.02" width="14.04" height="12.69" fill="#1e90ff" stroke="#000" stroke-width="0.8" />
<rect x="668.40" y="208.33" width="15.91" height="12.69" fill="#1e90ff" stroke="#000" stroke-width="0.8" />
<rect x="668.40" y="195.64" width="6.08" height="12.69" fill="#1e90ff" stroke="#000" stroke-width="0.8" />
<rect x="668.40" y="182.95" width="5.62" height="12.69" fill="#1e90ff" stroke="#000" stroke-width="0.8" />
<rect x="668.40" y="170.26" width="4.68" height="12.69" fill="#1e90ff" stroke="#000" stroke-width="0.8" />
<rect x="668.40" y="157.57" width="2.34" height="12.69" fill="#1e90ff" stroke="#000" stroke-width="0.8" />
<rect x="668.40" y="144.88" width="1.40" height="12.69" fill="#1e90ff" stroke="#000" stroke-width="0.8" />
<rect x="668.40" y="132.19" width="1.40" height="12.69" fill="#1e90ff" stroke="#000" stroke-width="0.8" />
<rect x="668.40" y="119.50" width="0.94" height="12.69" fill="#1e90ff" stroke="#000" stroke-width="0.8" />
<line x1="668.40" y1="373.30" x2="668.40" y2="363.30" stroke="#3a3a3a" stroke-width="1.4" />
<line x1="668.40" y1="93.50" x2="668.40" y2="103.50" stroke="#3a3a3a" stroke-width="1.4" />
<line x1="715.20" y1="373.30" x2="715.20" y2="363.30" stroke="#3a3a3a" stroke-width="1.4" />
<line x1="715.20" y1="93.50" x2="715.20" y2="103.50" stroke="#3a3a3a" stroke-width="1.4" />
<line x1="668.40" y1="373.30" x2="678.40" y2="373.30" stroke="#3a3a3a" stroke-width="1.4" />
<line x1="759.30" y1="373.30" x2="749.30" y2="373.30" stroke="#3a3a3a" stroke-width="1.4" />
<line x1="668.40" y1="322.54" x2="678.40" y2="322.54" stroke="#3a3a3a" stroke-width="1.4" />
<line x1="759.30" y1="322.54" x2="749.30" y2="322.54" stroke="#3a3a3a" stroke-width="1.4" />
<line x1="668.40" y1="271.78" x2="678.40" y2="271.78" stroke="#3a3a3a" stroke-width="1.4" />
<line x1="759.30" y1="271.78" x2="749.30" y2="271.78" stroke="#3a3a3a" stroke-width="1.4" />
<line x1="668.40" y1="221.02" x2="678.40" y2="221.02" stroke="#3a3a3a" stroke-width="1.4" />
<line x1="759.30" y1="221.02" x2="749.30" y2="221.02" stroke="#3a3a3a" stroke-width="1.4" />
<line x1="668.40" y1="170.26" x2="678.40" y2="170.26" stroke="#3a3a3a" stroke-width="1.4" />
<line x1="759.30" y1="170.26" x2="749.30" y2="170.26" stroke="#3a3a3a" stroke-width="1.4" />
<line x1="668.40" y1="119.50" x2="678.40" y2="119.50" stroke="#3a3a3a" stroke-width="1.4" />
<line x1="759.30" y1="119.50" x2="749.30" y2="119.50" stroke="#3a3a3a" stroke-width="1.4" />
<rect x="668.40" y="93.50" width="90.90" height="279.80" fill="none" stroke="#000" stroke-width="1.3" />
<text x="668.90" y="389.70" font-family='"Liberation Serif", serif' font-size="14.2" text-anchor="middle" fill="#000" stroke="#000" stroke-width="0.12" >0</text>
<text x="714.90" y="389.70" font-family='"Liberation Serif", serif' font-size="14.2" text-anchor="middle" fill="#000" stroke="#000" stroke-width="0.12" textLength="17.40" lengthAdjust="spacingAndGlyphs" >50</text>
<text x="0" y="0" transform="translate(689.20,408.80)" font-family='"Liberation Serif", serif' font-size="14.6" stroke="#000" stroke-width="0.12" textLength="49.50" lengthAdjust="spacingAndGlyphs" >N<tspan font-size="10.0" font-family='"Liberation Sans", sans-serif' dy="1.3">galaxies</tspan></text>
</svg></body></html>
